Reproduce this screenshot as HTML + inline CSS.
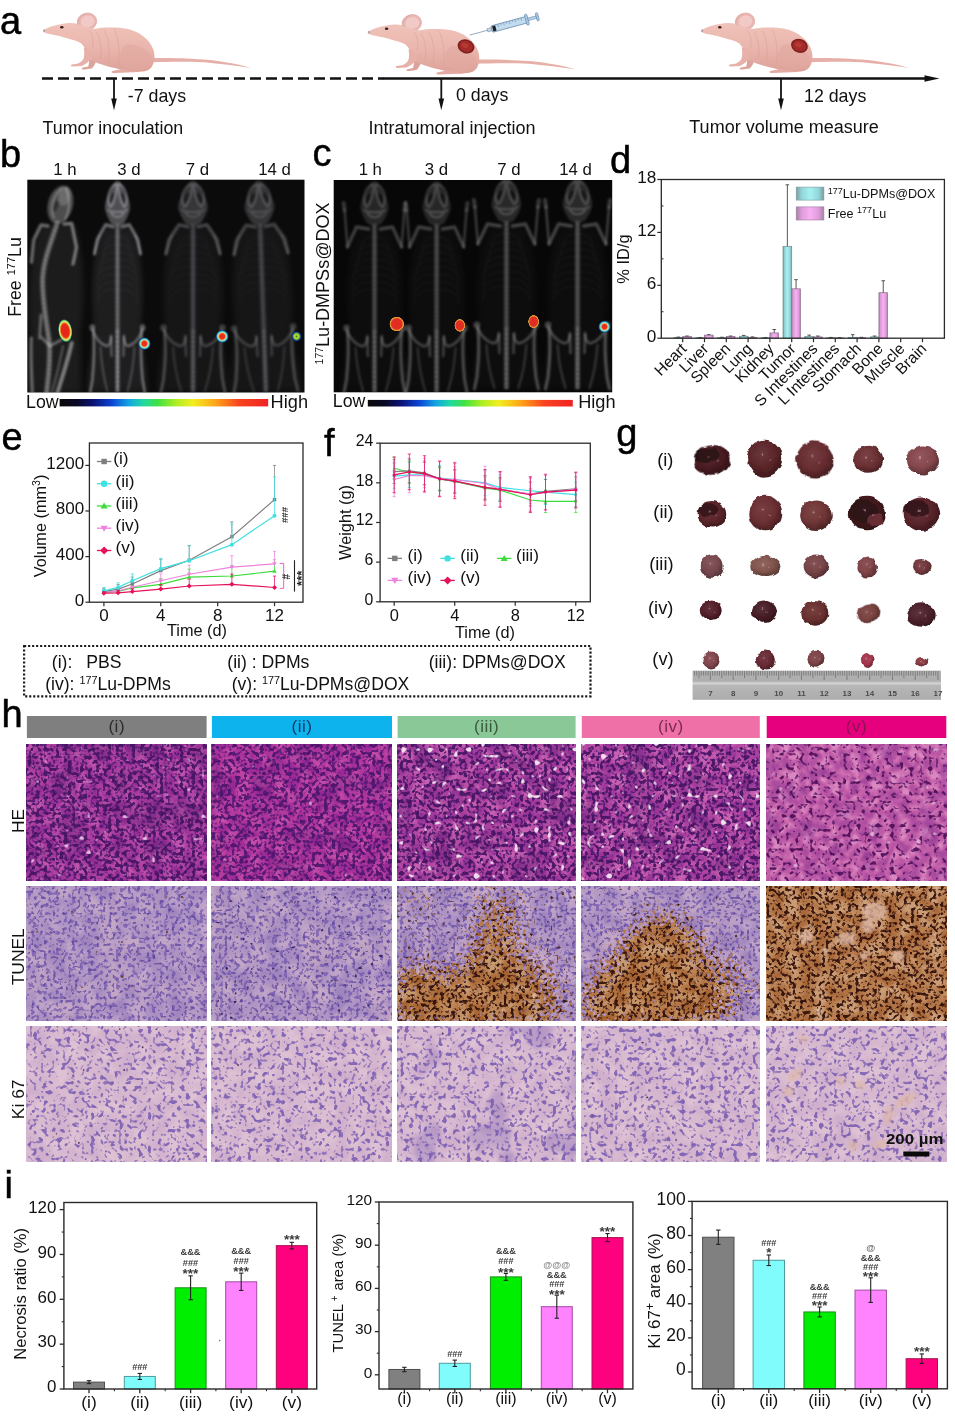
<!DOCTYPE html>
<html lang="en"><head><meta charset="utf-8"><title>Figure</title>
<style>html,body{margin:0;padding:0;background:#fff}svg{display:block}text{font-family:"Liberation Sans", Arial, sans-serif}</style>
</head><body>
<svg width="955" height="1425" viewBox="0 0 955 1425">
<defs>
<linearGradient id="mg" x1="0" y1="0" x2="0" y2="1"><stop offset="0" stop-color="#f0c3ba"/><stop offset="0.55" stop-color="#e9b4ab"/><stop offset="1" stop-color="#dca199"/></linearGradient>
<g id="mouse">
<path d="M477,59.6 C490,59.3 505,59.4 528.6,61.1 C545,62.4 562,65.4 575.8,69.6 C560,67 545,65.2 528.6,63.8 C505,62.8 490,63.4 477,63.8 Z" fill="#e6afa8"/>
<path d="M414,60 C414,64 413.5,66.5 413,68 L407,69.2 C405.8,70.4 407,71.2 409,71 L416.5,70 C418.5,68 420,65.5 421,63 Z" fill="#dba39b"/>
<ellipse cx="411.8" cy="23.2" rx="9.8" ry="8.6" fill="#e9b6b1" stroke="#dba5a0" stroke-width="0.6" transform="rotate(-15 411.8 23.2)"/>
<ellipse cx="412.3" cy="23" rx="7" ry="6" fill="#f1cac7" transform="rotate(-15 412.3 23)"/>
<path d="M368.4,31.6 C373,28.6 380,26.4 386.5,25.4 C392,24.4 398,24.2 403,25.5 C410,28 415,30.5 420.2,30.3 C424,29.5 428,29 432.3,29 C440,28.8 446,29.2 451.5,30.3 C457,31.5 462,33.5 466,36.3 C470,39 473.5,42.5 475.6,45.9 C478,50 479.2,53.5 479.2,56.8 C479.4,60 479,63 478,65.2 C477,68 475.5,70 473.2,71.5 C468,73.6 462,73.6 456.3,73.2 C450,72.5 445,70.5 439.5,69.5 C432,68 424,65.5 417.8,62.8 C415,60 413,56.5 411.8,53.2 C410,49.5 408,47 405.8,44.7 C402,42.5 399,41.8 396.1,41.1 C392,40 388,38.8 384.1,37.5 C379,36.5 374,35.8 371,34.8 C369,34 367.6,32.8 368.4,31.6 Z" fill="url(#mg)"/>
<path d="M452,46 C462,45 474,51 476,61 C476,67 470,71.5 462,72 C452,72.5 445,66 445,58 C445,52 448,47 452,46 Z" fill="#e1a8a0" opacity="0.6"/>
<path d="M421,33 C425,40 427,50 425,60 M429,32 C434,42 435,52 433,64 M439,31 C444,42 445,54 443,67 M414,32 C417,36 419,42 417,50" fill="none" stroke="#d39c94" stroke-width="0.7" opacity="0.65"/>
<path d="M408.5,49 C409.5,55 409,58 408.2,60.4 C406.5,63 404.5,64.5 402.1,65.2 L396.5,66 C395,67 396,68.3 398,68.1 L406.5,67.5 C410.5,66 414,63 416.5,59 C415.5,55 413.5,52 412,49.5 Z" fill="#e7b1a9"/>
<path d="M448,70.2 L437,72.4 C435.4,73.6 437,74.7 440,74.5 L464,73.6 Z" fill="#e2aaa3"/>
<path d="M403.2,27 C401.6,22 404.5,17 410,15.4" fill="none" stroke="#dca6a1" stroke-width="0.8"/>
<ellipse cx="386.6" cy="28.7" rx="1.7" ry="1.25" fill="#3b1d1d"/>
<ellipse cx="369" cy="32.2" rx="1.1" ry="1.5" fill="#b9a3a3"/>
</g>
<g id="tumor"><ellipse cx="466" cy="46.4" rx="8.6" ry="6.9" fill="#7e1f1f" transform="rotate(20 466 46.4)"/><ellipse cx="466" cy="46.4" rx="7" ry="5.4" fill="#a52b2b" transform="rotate(20 466 46.4)"/><ellipse cx="465" cy="45.4" rx="3.4" ry="2.4" fill="#b63a34" transform="rotate(20 465 45.4)"/></g>
<filter id="bl1" x="-20%" y="-5%" width="140%" height="110%"><feGaussianBlur stdDeviation="1.1"/></filter>
<filter id="bl2" x="-30%" y="-30%" width="160%" height="160%"><feGaussianBlur stdDeviation="1.6"/></filter>
<filter id="bl3" x="-30%" y="-30%" width="160%" height="160%"><feGaussianBlur stdDeviation="3"/></filter>
<g id="skc" fill="none" stroke-linecap="round" stroke-linejoin="round">
<path d="M-16,48 C-30,66 -33,120 -27,150 C-30,170 -36,190 -36,212 L36,212 C36,190 30,170 27,150 C33,120 30,66 16,48 Z" fill="currentColor" opacity="0.04" filter="url(#bl3)"/>
<g filter="url(#bl1)">
<path d="M0,1 C4,1 6,7 9,13 C13,18 15.5,24 14.5,30 C13,35 10.5,39 8,43 C4,46.5 -4,46.5 -8,43 C-10.5,39 -13,35 -14.5,30 C-15.5,24 -13,18 -9,13 C-6,7 -4,1 0,1 Z" fill="currentColor" opacity="0.2"/>
<ellipse cx="-6.4" cy="18" rx="3.2" ry="6.4" fill="#000" opacity="0.42" transform="rotate(22 -6.4 18)"/>
<ellipse cx="6.4" cy="18" rx="3.2" ry="6.4" fill="#000" opacity="0.42" transform="rotate(-22 6.4 18)"/>
<path d="M-2,4 C-11,8 -13.5,20 -9,27 M2,4 C11,8 13.5,20 9,27 M-1,5 C-1,13 -3,21 -7.5,27 M1,5 C1,13 3,21 7.5,27" stroke="currentColor" stroke-width="1.7" opacity="0.36"/>
<path d="M-8,32 C-5,39 5,39 8,32 M-11,30 C-8,33 8,33 11,30" stroke="currentColor" stroke-width="2" opacity="0.32"/>
<line x1="0" y1="44" x2="0" y2="212" stroke="currentColor" stroke-width="5.2" stroke-linecap="butt" opacity="0.27"/>
<line x1="0" y1="46" x2="0" y2="212" stroke="currentColor" stroke-width="2.8" stroke-dasharray="3.4 1" stroke-linecap="butt" opacity="0.22"/>
<line x1="0" y1="150" x2="0" y2="212" stroke="currentColor" stroke-width="3.8" stroke-dasharray="3.8 1.2" stroke-linecap="butt" opacity="0.25"/>
<path d="M0,58 C-7,55 -14,61 -15,70 M0,58 C7,55 14,61 15,70 M0,65.5 C-8.1,62.5 -16.2,68.5 -17.2,77.5 M0,65.5 C8.1,62.5 16.2,68.5 17.2,77.5 M0,73 C-9.2,70 -18.4,76 -19.4,85 M0,73 C9.2,70 18.4,76 19.4,85 M0,80.5 C-10.3,77.5 -20.6,83.5 -21.6,92.5 M0,80.5 C10.3,77.5 20.6,83.5 21.6,92.5 M0,88 C-11.4,85 -22.8,91 -23.8,100 M0,88 C11.4,85 22.8,91 23.8,100 M0,95.5 C-11.4,92.5 -22.8,98.5 -23.8,107.5 M0,95.5 C11.4,92.5 22.8,98.5 23.8,107.5 M0,103 C-11.4,100 -22.8,106 -23.8,115 M0,103 C11.4,100 22.8,106 23.8,115 M0,110.5 C-11.4,107.5 -22.8,113.5 -23.8,122.5 M0,110.5 C11.4,107.5 22.8,113.5 23.8,122.5" stroke="currentColor" stroke-width="1.2" opacity="0.06"/>
<path d="M-6,49 L-19,47 L-28.5,67" stroke="currentColor" stroke-width="3.4" opacity="0.36"/>
<path d="M-28.5,67 L-31.5,30" stroke="currentColor" stroke-width="2.4" opacity="0.34"/>
<path d="M-31.5,30 L-32.5,23" stroke="currentColor" stroke-width="4" opacity="0.3"/>
<circle cx="-29.5" cy="148" r="3.4" fill="currentColor" opacity="0.36"/>
<path d="M-29,150 C-26,158 -20,164 -14,166 C-10,167 -8,163 -7.6,158" stroke="currentColor" stroke-width="2.8" opacity="0.36"/>
<path d="M-7.6,156 L-7,176" stroke="currentColor" stroke-width="2.6" opacity="0.34"/>
<path d="M-28.5,152 C-27,166 -27.5,182 -29.5,200 L-32,212" stroke="currentColor" stroke-width="3.1" opacity="0.42"/>
<path d="M-20,168 C-19,182 -17,196 -12,211" stroke="currentColor" stroke-width="2.2" opacity="0.26"/>
<path d="M6,49 L19,47 L28.5,67" stroke="currentColor" stroke-width="3.4" opacity="0.36"/>
<path d="M28.5,67 L31.5,30" stroke="currentColor" stroke-width="2.4" opacity="0.34"/>
<path d="M31.5,30 L32.5,23" stroke="currentColor" stroke-width="4" opacity="0.3"/>
<circle cx="29.5" cy="148" r="3.4" fill="currentColor" opacity="0.36"/>
<path d="M29,150 C26,158 20,164 14,166 C10,167 8,163 7.6,158" stroke="currentColor" stroke-width="2.8" opacity="0.36"/>
<path d="M7.6,156 L7,176" stroke="currentColor" stroke-width="2.6" opacity="0.34"/>
<path d="M28.5,152 C27,166 27.5,182 29.5,200 L32,212" stroke="currentColor" stroke-width="3.1" opacity="0.42"/>
<path d="M20,168 C19,182 17,196 12,211" stroke="currentColor" stroke-width="2.2" opacity="0.26"/>
</g></g>
<g id="skb" fill="none" stroke-linecap="round" stroke-linejoin="round">
<path d="M-16,48 C-30,66 -33,120 -27,150 C-30,170 -36,190 -36,212 L36,212 C36,190 30,170 27,150 C33,120 30,66 16,48 Z" fill="currentColor" opacity="0.085" filter="url(#bl3)"/>
<g filter="url(#bl1)">
<path d="M0,1 C4,1 6,7 9,13 C13,18 15.5,24 14.5,30 C13,35 10.5,39 8,43 C4,46.5 -4,46.5 -8,43 C-10.5,39 -13,35 -14.5,30 C-15.5,24 -13,18 -9,13 C-6,7 -4,1 0,1 Z" fill="currentColor" opacity="0.32"/>
<ellipse cx="-6.4" cy="18" rx="3.2" ry="6.4" fill="#000" opacity="0.42" transform="rotate(22 -6.4 18)"/>
<ellipse cx="6.4" cy="18" rx="3.2" ry="6.4" fill="#000" opacity="0.42" transform="rotate(-22 6.4 18)"/>
<path d="M-2,4 C-11,8 -13.5,20 -9,27 M2,4 C11,8 13.5,20 9,27 M-1,5 C-1,13 -3,21 -7.5,27 M1,5 C1,13 3,21 7.5,27" stroke="currentColor" stroke-width="1.7" opacity="0.48"/>
<path d="M-8,32 C-5,39 5,39 8,32 M-11,30 C-8,33 8,33 11,30" stroke="currentColor" stroke-width="2" opacity="0.32"/>
<line x1="0" y1="44" x2="0" y2="212" stroke="currentColor" stroke-width="5.2" stroke-linecap="butt" opacity="0.27"/>
<line x1="0" y1="46" x2="0" y2="212" stroke="currentColor" stroke-width="2.8" stroke-dasharray="3.4 1" stroke-linecap="butt" opacity="0.22"/>
<line x1="0" y1="150" x2="0" y2="212" stroke="currentColor" stroke-width="3.8" stroke-dasharray="3.8 1.2" stroke-linecap="butt" opacity="0.25"/>
<path d="M0,58 C-7,55 -14,61 -15,70 M0,58 C7,55 14,61 15,70 M0,65.5 C-8.1,62.5 -16.2,68.5 -17.2,77.5 M0,65.5 C8.1,62.5 16.2,68.5 17.2,77.5 M0,73 C-9.2,70 -18.4,76 -19.4,85 M0,73 C9.2,70 18.4,76 19.4,85 M0,80.5 C-10.3,77.5 -20.6,83.5 -21.6,92.5 M0,80.5 C10.3,77.5 20.6,83.5 21.6,92.5 M0,88 C-11.4,85 -22.8,91 -23.8,100 M0,88 C11.4,85 22.8,91 23.8,100 M0,95.5 C-11.4,92.5 -22.8,98.5 -23.8,107.5 M0,95.5 C11.4,92.5 22.8,98.5 23.8,107.5 M0,103 C-11.4,100 -22.8,106 -23.8,115 M0,103 C11.4,100 22.8,106 23.8,115 M0,110.5 C-11.4,107.5 -22.8,113.5 -23.8,122.5 M0,110.5 C11.4,107.5 22.8,113.5 23.8,122.5" stroke="currentColor" stroke-width="1.2" opacity="0.06"/>
<path d="M-5,47 L-14,45 L-24,60 L-27,74" stroke="currentColor" stroke-width="3.6" opacity="0.42"/>
<path d="M-27,74 L-21,56" stroke="currentColor" stroke-width="2.2" opacity="0.28"/>
<circle cx="-29.5" cy="148" r="3.4" fill="currentColor" opacity="0.36"/>
<path d="M-29,150 C-26,158 -20,164 -14,166 C-10,167 -8,163 -7.6,158" stroke="currentColor" stroke-width="2.8" opacity="0.36"/>
<path d="M-7.6,156 L-7,176" stroke="currentColor" stroke-width="2.6" opacity="0.34"/>
<path d="M-28.5,152 C-27,166 -27.5,182 -29.5,200 L-32,212" stroke="currentColor" stroke-width="3.1" opacity="0.42"/>
<path d="M-20,168 C-19,182 -17,196 -12,211" stroke="currentColor" stroke-width="2.2" opacity="0.26"/>
<path d="M5,47 L14,45 L24,60 L27,74" stroke="currentColor" stroke-width="3.6" opacity="0.42"/>
<path d="M27,74 L21,56" stroke="currentColor" stroke-width="2.2" opacity="0.28"/>
<circle cx="29.5" cy="148" r="3.4" fill="currentColor" opacity="0.36"/>
<path d="M29,150 C26,158 20,164 14,166 C10,167 8,163 7.6,158" stroke="currentColor" stroke-width="2.8" opacity="0.36"/>
<path d="M7.6,156 L7,176" stroke="currentColor" stroke-width="2.6" opacity="0.34"/>
<path d="M28.5,152 C27,166 27.5,182 29.5,200 L32,212" stroke="currentColor" stroke-width="3.1" opacity="0.42"/>
<path d="M20,168 C19,182 17,196 12,211" stroke="currentColor" stroke-width="2.2" opacity="0.26"/>
</g></g>
<linearGradient id="jet" x1="0" y1="0" x2="1" y2="0"><stop offset="0" stop-color="#0a0a0c"/><stop offset="0.08" stop-color="#080822"/><stop offset="0.16" stop-color="#0a1274"/><stop offset="0.25" stop-color="#0c44d4"/><stop offset="0.33" stop-color="#12a4e2"/><stop offset="0.40" stop-color="#20d8a4"/><stop offset="0.47" stop-color="#40e044"/><stop offset="0.56" stop-color="#b0ee22"/><stop offset="0.64" stop-color="#f2ee20"/><stop offset="0.75" stop-color="#ffa218"/><stop offset="0.86" stop-color="#f84420"/><stop offset="1" stop-color="#f02222"/></linearGradient>
<radialGradient id="hotA"><stop offset="0" stop-color="#e82418"/><stop offset="0.55" stop-color="#e42a1c"/><stop offset="0.68" stop-color="#f0a030"/><stop offset="0.78" stop-color="#e8e878"/><stop offset="0.88" stop-color="#40c070"/><stop offset="1" stop-color="#103060" stop-opacity="0"/></radialGradient>
<radialGradient id="hotB"><stop offset="0" stop-color="#e82418"/><stop offset="0.4" stop-color="#ea3a20"/><stop offset="0.55" stop-color="#f0d080"/><stop offset="0.7" stop-color="#50d8d8"/><stop offset="0.85" stop-color="#1060a0"/><stop offset="1" stop-color="#081840" stop-opacity="0"/></radialGradient>
<radialGradient id="hotC"><stop offset="0" stop-color="#e42a20"/><stop offset="0.7" stop-color="#e03024"/><stop offset="0.82" stop-color="#f08a38"/><stop offset="0.92" stop-color="#c8a040"/><stop offset="1" stop-color="#402010" stop-opacity="0"/></radialGradient>
<radialGradient id="hotD"><stop offset="0" stop-color="#406020"/><stop offset="0.25" stop-color="#b8d830"/><stop offset="0.5" stop-color="#90c838"/><stop offset="0.65" stop-color="#208050"/><stop offset="0.8" stop-color="#102888"/><stop offset="1" stop-color="#080840" stop-opacity="0"/></radialGradient>
<clipPath id="cpb"><rect x="27.3" y="179.7" width="277.2" height="212.8"/></clipPath>
<clipPath id="cpc"><rect x="333.7" y="180" width="278.5" height="212.3"/></clipPath>
<linearGradient id="gcy" x1="0" y1="0" x2="1" y2="0"><stop offset="0" stop-color="#7d9c9f"/><stop offset="0.2" stop-color="#93d6da"/><stop offset="0.5" stop-color="#a6f0f2"/><stop offset="0.8" stop-color="#93d6da"/><stop offset="1" stop-color="#7d9c9f"/></linearGradient>
<linearGradient id="gpk" x1="0" y1="0" x2="1" y2="0"><stop offset="0" stop-color="#a383a4"/><stop offset="0.2" stop-color="#e09cdc"/><stop offset="0.5" stop-color="#f8b0f4"/><stop offset="0.8" stop-color="#e09cdc"/><stop offset="1" stop-color="#a383a4"/></linearGradient>
<filter id="rough" x="-25%" y="-25%" width="150%" height="150%"><feTurbulence type="fractalNoise" baseFrequency="0.11" numOctaves="2" seed="4" result="n"/><feDisplacementMap in="SourceGraphic" in2="n" scale="5" xChannelSelector="R" yChannelSelector="G" result="d"/><feGaussianBlur in="d" stdDeviation="0.4"/></filter>
<radialGradient id="tg0" cx="0.42" cy="0.38" r="0.65"><stop offset="0" stop-color="#5a2f34"/><stop offset="0.6" stop-color="#481b21"/><stop offset="1" stop-color="#301216"/></radialGradient>
<radialGradient id="tg1" cx="0.42" cy="0.38" r="0.65"><stop offset="0" stop-color="#6a383b"/><stop offset="0.6" stop-color="#5a2529"/><stop offset="1" stop-color="#3c181b"/></radialGradient>
<radialGradient id="tg2" cx="0.42" cy="0.38" r="0.65"><stop offset="0" stop-color="#763e42"/><stop offset="0.6" stop-color="#662c30"/><stop offset="1" stop-color="#441d20"/></radialGradient>
<radialGradient id="tg3" cx="0.42" cy="0.38" r="0.65"><stop offset="0" stop-color="#7b4246"/><stop offset="0.6" stop-color="#6b3033"/><stop offset="1" stop-color="#472022"/></radialGradient>
<radialGradient id="tg4" cx="0.42" cy="0.38" r="0.65"><stop offset="0" stop-color="#93585e"/><stop offset="0.6" stop-color="#84474c"/><stop offset="1" stop-color="#582f33"/></radialGradient>
<radialGradient id="tg5" cx="0.42" cy="0.38" r="0.65"><stop offset="0" stop-color="#6a383d"/><stop offset="0.6" stop-color="#5a252b"/><stop offset="1" stop-color="#3c181c"/></radialGradient>
<radialGradient id="tg6" cx="0.42" cy="0.38" r="0.65"><stop offset="0" stop-color="#794044"/><stop offset="0.6" stop-color="#692e31"/><stop offset="1" stop-color="#461e21"/></radialGradient>
<radialGradient id="tg7" cx="0.42" cy="0.38" r="0.65"><stop offset="0" stop-color="#7e4747"/><stop offset="0.6" stop-color="#6e3435"/><stop offset="1" stop-color="#492323"/></radialGradient>
<radialGradient id="tg8" cx="0.42" cy="0.38" r="0.65"><stop offset="0" stop-color="#532b30"/><stop offset="0.6" stop-color="#42181d"/><stop offset="1" stop-color="#2c1013"/></radialGradient>
<radialGradient id="tg9" cx="0.42" cy="0.38" r="0.65"><stop offset="0" stop-color="#6a383e"/><stop offset="0.6" stop-color="#5a252c"/><stop offset="1" stop-color="#3c181d"/></radialGradient>
<radialGradient id="tg10" cx="0.42" cy="0.38" r="0.65"><stop offset="0" stop-color="#86595f"/><stop offset="0.6" stop-color="#77484e"/><stop offset="1" stop-color="#4f3034"/></radialGradient>
<radialGradient id="tg11" cx="0.42" cy="0.38" r="0.65"><stop offset="0" stop-color="#90655e"/><stop offset="0.6" stop-color="#81544c"/><stop offset="1" stop-color="#563833"/></radialGradient>
<radialGradient id="tg12" cx="0.42" cy="0.38" r="0.65"><stop offset="0" stop-color="#865558"/><stop offset="0.6" stop-color="#774447"/><stop offset="1" stop-color="#4f2d2f"/></radialGradient>
<radialGradient id="tg13" cx="0.42" cy="0.38" r="0.65"><stop offset="0" stop-color="#8e5559"/><stop offset="0.6" stop-color="#7f4448"/><stop offset="1" stop-color="#552d30"/></radialGradient>
<radialGradient id="tg14" cx="0.42" cy="0.38" r="0.65"><stop offset="0" stop-color="#80494d"/><stop offset="0.6" stop-color="#71373b"/><stop offset="1" stop-color="#4b2527"/></radialGradient>
<radialGradient id="tg15" cx="0.42" cy="0.38" r="0.65"><stop offset="0" stop-color="#62323b"/><stop offset="0.6" stop-color="#511f29"/><stop offset="1" stop-color="#36151b"/></radialGradient>
<radialGradient id="tg16" cx="0.42" cy="0.38" r="0.65"><stop offset="0" stop-color="#583139"/><stop offset="0.6" stop-color="#471e26"/><stop offset="1" stop-color="#2f1419"/></radialGradient>
<radialGradient id="tg17" cx="0.42" cy="0.38" r="0.65"><stop offset="0" stop-color="#784341"/><stop offset="0.6" stop-color="#68302f"/><stop offset="1" stop-color="#45201f"/></radialGradient>
<radialGradient id="tg18" cx="0.42" cy="0.38" r="0.65"><stop offset="0" stop-color="#875350"/><stop offset="0.6" stop-color="#78423e"/><stop offset="1" stop-color="#502c29"/></radialGradient>
<radialGradient id="tg19" cx="0.42" cy="0.38" r="0.65"><stop offset="0" stop-color="#5d343d"/><stop offset="0.6" stop-color="#4b212b"/><stop offset="1" stop-color="#32161c"/></radialGradient>
<radialGradient id="tg20" cx="0.42" cy="0.38" r="0.65"><stop offset="0" stop-color="#8e575e"/><stop offset="0.6" stop-color="#7f464d"/><stop offset="1" stop-color="#552e33"/></radialGradient>
<radialGradient id="tg21" cx="0.42" cy="0.38" r="0.65"><stop offset="0" stop-color="#773c47"/><stop offset="0.6" stop-color="#672a35"/><stop offset="1" stop-color="#451c23"/></radialGradient>
<radialGradient id="tg22" cx="0.42" cy="0.38" r="0.65"><stop offset="0" stop-color="#8b5357"/><stop offset="0.6" stop-color="#7b4246"/><stop offset="1" stop-color="#522c2e"/></radialGradient>
<radialGradient id="tg23" cx="0.42" cy="0.38" r="0.65"><stop offset="0" stop-color="#ae475e"/><stop offset="0.6" stop-color="#a1354c"/><stop offset="1" stop-color="#6b2333"/></radialGradient>
<radialGradient id="tg24" cx="0.42" cy="0.38" r="0.65"><stop offset="0" stop-color="#974c53"/><stop offset="0.6" stop-color="#883a42"/><stop offset="1" stop-color="#5a272c"/></radialGradient>
<linearGradient id="rul" x1="0" y1="0" x2="0" y2="1"><stop offset="0" stop-color="#b2b2b2"/><stop offset="0.36" stop-color="#aeaeae"/><stop offset="0.43" stop-color="#d6d6d6"/><stop offset="0.52" stop-color="#b6b6b6"/><stop offset="1" stop-color="#adadad"/></linearGradient>
<filter id="he0" x="0" y="0" width="100%" height="100%" color-interpolation-filters="sRGB"><feTurbulence type="fractalNoise" baseFrequency="0.08" numOctaves="2" seed="3"/><feColorMatrix type="matrix" values="1 0 0 0 0  1 0 0 0 0  1 0 0 0 0  0 0 0 0 1"/><feComponentTransfer result="base"><feFuncR type="table" tableValues="0.580 0.580 0.580 0.580 0.580 0.580 0.580 0.580 0.590 0.609 0.627 0.646 0.665 0.682 0.698 0.714 0.729 0.745 0.753 0.753 0.753 0.753 0.753 0.753 0.753 0.753"/><feFuncG type="table" tableValues="0.180 0.180 0.180 0.180 0.180 0.180 0.180 0.180 0.187 0.199 0.212 0.224 0.237 0.252 0.269 0.286 0.304 0.321 0.329 0.329 0.329 0.329 0.329 0.329 0.329 0.329"/><feFuncB type="table" tableValues="0.588 0.588 0.588 0.588 0.588 0.588 0.588 0.588 0.592 0.600 0.608 0.616 0.624 0.633 0.644 0.655 0.666 0.677 0.682 0.682 0.682 0.682 0.682 0.682 0.682 0.682"/></feComponentTransfer><feTurbulence type="fractalNoise" baseFrequency="0.035" numOctaves="2" seed="101"/><feColorMatrix type="matrix" values="0 0 0 0 0.165  0 0 0 0 0.063  0 0 0 0 0.314  5.000 0 0 0 -2.500"/><feComponentTransfer><feFuncA type="linear" slope="0.200"/></feComponentTransfer><feComposite operator="over" in2="base" result="L0"/><feTurbulence type="fractalNoise" baseFrequency="0.25" numOctaves="1" seed="401"/><feColorMatrix type="matrix" values="0 0 0 0 0.259  0 0 0 0 0.071  0 0 0 0 0.369  9.000 0 0 0 -4.590"/><feComponentTransfer><feFuncA type="linear" slope="0.920"/></feComponentTransfer><feComposite operator="over" in2="L0" result="L1"/><feTurbulence type="fractalNoise" baseFrequency="0.34" numOctaves="1" seed="402"/><feColorMatrix type="matrix" values="0 0 0 0 0.306  0 0 0 0 0.102  0 0 0 0 0.439  9.000 0 0 0 -4.770"/><feComponentTransfer><feFuncA type="linear" slope="0.880"/></feComponentTransfer><feComposite operator="over" in2="L1" result="L2"/><feTurbulence type="fractalNoise" baseFrequency="0.14" numOctaves="1" seed="5"/><feColorMatrix type="matrix" values="0 0 0 0 0.925  0 0 0 0 0.769  0 0 0 0 0.910  14.000 0 0 0 -9.940"/><feComponentTransfer><feFuncA type="linear" slope="0.900"/></feComponentTransfer><feComposite operator="over" in2="L2" result="L3"/><feGaussianBlur stdDeviation="0.4"/></filter>
<filter id="he1" x="0" y="0" width="100%" height="100%" color-interpolation-filters="sRGB"><feTurbulence type="fractalNoise" baseFrequency="0.08" numOctaves="2" seed="8"/><feColorMatrix type="matrix" values="1 0 0 0 0  1 0 0 0 0  1 0 0 0 0  0 0 0 0 1"/><feComponentTransfer result="base"><feFuncR type="table" tableValues="0.612 0.612 0.612 0.612 0.612 0.612 0.612 0.612 0.621 0.640 0.659 0.678 0.696 0.713 0.727 0.741 0.755 0.769 0.776 0.776 0.776 0.776 0.776 0.776 0.776 0.776"/><feFuncG type="table" tableValues="0.165 0.165 0.165 0.165 0.165 0.165 0.165 0.165 0.170 0.181 0.192 0.203 0.214 0.228 0.245 0.263 0.280 0.297 0.306 0.306 0.306 0.306 0.306 0.306 0.306 0.306"/><feFuncB type="table" tableValues="0.596 0.596 0.596 0.596 0.596 0.596 0.596 0.596 0.598 0.603 0.608 0.613 0.617 0.624 0.634 0.643 0.653 0.662 0.667 0.667 0.667 0.667 0.667 0.667 0.667 0.667"/></feComponentTransfer><feTurbulence type="fractalNoise" baseFrequency="0.035" numOctaves="2" seed="102"/><feColorMatrix type="matrix" values="0 0 0 0 0.227  0 0 0 0 0.063  0 0 0 0 0.376  5.000 0 0 0 -2.500"/><feComponentTransfer><feFuncA type="linear" slope="0.220"/></feComponentTransfer><feComposite operator="over" in2="base" result="L0"/><feTurbulence type="fractalNoise" baseFrequency="0.25" numOctaves="1" seed="403"/><feColorMatrix type="matrix" values="0 0 0 0 0.290  0 0 0 0 0.078  0 0 0 0 0.408  9.000 0 0 0 -4.635"/><feComponentTransfer><feFuncA type="linear" slope="0.920"/></feComponentTransfer><feComposite operator="over" in2="L0" result="L1"/><feTurbulence type="fractalNoise" baseFrequency="0.34" numOctaves="1" seed="404"/><feColorMatrix type="matrix" values="0 0 0 0 0.337  0 0 0 0 0.102  0 0 0 0 0.471  9.000 0 0 0 -4.815"/><feComponentTransfer><feFuncA type="linear" slope="0.880"/></feComponentTransfer><feComposite operator="over" in2="L1" result="L2"/><feTurbulence type="fractalNoise" baseFrequency="0.14" numOctaves="1" seed="9"/><feColorMatrix type="matrix" values="0 0 0 0 0.910  0 0 0 0 0.690  0 0 0 0 0.878  14.000 0 0 0 -10.360"/><feComponentTransfer><feFuncA type="linear" slope="0.800"/></feComponentTransfer><feComposite operator="over" in2="L2" result="L3"/><feGaussianBlur stdDeviation="0.4"/></filter>
<filter id="he2" x="0" y="0" width="100%" height="100%" color-interpolation-filters="sRGB"><feTurbulence type="fractalNoise" baseFrequency="0.08" numOctaves="2" seed="12"/><feColorMatrix type="matrix" values="1 0 0 0 0  1 0 0 0 0  1 0 0 0 0  0 0 0 0 1"/><feComponentTransfer result="base"><feFuncR type="table" tableValues="0.596 0.596 0.596 0.596 0.596 0.596 0.596 0.596 0.605 0.624 0.643 0.662 0.681 0.700 0.718 0.737 0.756 0.775 0.784 0.784 0.784 0.784 0.784 0.784 0.784 0.784"/><feFuncG type="table" tableValues="0.204 0.204 0.204 0.204 0.204 0.204 0.204 0.204 0.210 0.223 0.235 0.248 0.260 0.278 0.300 0.322 0.344 0.365 0.376 0.376 0.376 0.376 0.376 0.376 0.376 0.376"/><feFuncB type="table" tableValues="0.596 0.596 0.596 0.596 0.596 0.596 0.596 0.596 0.600 0.608 0.616 0.624 0.631 0.642 0.654 0.667 0.679 0.692 0.698 0.698 0.698 0.698 0.698 0.698 0.698 0.698"/></feComponentTransfer><feTurbulence type="fractalNoise" baseFrequency="0.035" numOctaves="2" seed="103"/><feColorMatrix type="matrix" values="0 0 0 0 0.165  0 0 0 0 0.063  0 0 0 0 0.314  5.000 0 0 0 -2.500"/><feComponentTransfer><feFuncA type="linear" slope="0.180"/></feComponentTransfer><feComposite operator="over" in2="base" result="L0"/><feTurbulence type="fractalNoise" baseFrequency="0.25" numOctaves="1" seed="405"/><feColorMatrix type="matrix" values="0 0 0 0 0.259  0 0 0 0 0.071  0 0 0 0 0.369  9.000 0 0 0 -4.680"/><feComponentTransfer><feFuncA type="linear" slope="0.920"/></feComponentTransfer><feComposite operator="over" in2="L0" result="L1"/><feTurbulence type="fractalNoise" baseFrequency="0.34" numOctaves="1" seed="406"/><feColorMatrix type="matrix" values="0 0 0 0 0.306  0 0 0 0 0.102  0 0 0 0 0.439  9.000 0 0 0 -4.860"/><feComponentTransfer><feFuncA type="linear" slope="0.880"/></feComponentTransfer><feComposite operator="over" in2="L1" result="L2"/><feTurbulence type="fractalNoise" baseFrequency="0.15" numOctaves="1" seed="13"/><feColorMatrix type="matrix" values="0 0 0 0 0.965  0 0 0 0 0.902  0 0 0 0 0.949  12.000 0 0 0 -7.860"/><feComponentTransfer><feFuncA type="linear" slope="0.950"/></feComponentTransfer><feComposite operator="over" in2="L2" result="L3"/><feGaussianBlur stdDeviation="0.4"/></filter>
<filter id="he3" x="0" y="0" width="100%" height="100%" color-interpolation-filters="sRGB"><feTurbulence type="fractalNoise" baseFrequency="0.08" numOctaves="2" seed="17"/><feColorMatrix type="matrix" values="1 0 0 0 0  1 0 0 0 0  1 0 0 0 0  0 0 0 0 1"/><feComponentTransfer result="base"><feFuncR type="table" tableValues="0.604 0.604 0.604 0.604 0.604 0.604 0.604 0.604 0.613 0.632 0.651 0.670 0.689 0.707 0.726 0.745 0.764 0.783 0.792 0.792 0.792 0.792 0.792 0.792 0.792 0.792"/><feFuncG type="table" tableValues="0.212 0.212 0.212 0.212 0.212 0.212 0.212 0.212 0.218 0.231 0.243 0.256 0.268 0.285 0.307 0.329 0.351 0.373 0.384 0.384 0.384 0.384 0.384 0.384 0.384 0.384"/><feFuncB type="table" tableValues="0.600 0.600 0.600 0.600 0.600 0.600 0.600 0.600 0.604 0.612 0.620 0.627 0.635 0.645 0.658 0.671 0.683 0.696 0.702 0.702 0.702 0.702 0.702 0.702 0.702 0.702"/></feComponentTransfer><feTurbulence type="fractalNoise" baseFrequency="0.035" numOctaves="2" seed="104"/><feColorMatrix type="matrix" values="0 0 0 0 0.165  0 0 0 0 0.063  0 0 0 0 0.314  5.000 0 0 0 -2.500"/><feComponentTransfer><feFuncA type="linear" slope="0.180"/></feComponentTransfer><feComposite operator="over" in2="base" result="L0"/><feTurbulence type="fractalNoise" baseFrequency="0.25" numOctaves="1" seed="407"/><feColorMatrix type="matrix" values="0 0 0 0 0.259  0 0 0 0 0.071  0 0 0 0 0.369  9.000 0 0 0 -4.680"/><feComponentTransfer><feFuncA type="linear" slope="0.920"/></feComponentTransfer><feComposite operator="over" in2="L0" result="L1"/><feTurbulence type="fractalNoise" baseFrequency="0.34" numOctaves="1" seed="408"/><feColorMatrix type="matrix" values="0 0 0 0 0.306  0 0 0 0 0.102  0 0 0 0 0.439  9.000 0 0 0 -4.860"/><feComponentTransfer><feFuncA type="linear" slope="0.880"/></feComponentTransfer><feComposite operator="over" in2="L1" result="L2"/><feTurbulence type="fractalNoise" baseFrequency="0.15" numOctaves="1" seed="19"/><feColorMatrix type="matrix" values="0 0 0 0 0.965  0 0 0 0 0.902  0 0 0 0 0.949  12.000 0 0 0 -7.920"/><feComponentTransfer><feFuncA type="linear" slope="0.950"/></feComponentTransfer><feComposite operator="over" in2="L2" result="L3"/><feGaussianBlur stdDeviation="0.4"/></filter>
<filter id="he4" x="0" y="0" width="100%" height="100%" color-interpolation-filters="sRGB"><feTurbulence type="fractalNoise" baseFrequency="0.1" numOctaves="2" seed="21"/><feColorMatrix type="matrix" values="1 0 0 0 0  1 0 0 0 0  1 0 0 0 0  0 0 0 0 1"/><feComponentTransfer result="base"><feFuncR type="table" tableValues="0.667 0.667 0.667 0.667 0.667 0.667 0.667 0.667 0.676 0.695 0.714 0.733 0.751 0.770 0.788 0.805 0.822 0.838 0.855 0.855 0.855 0.855 0.855 0.855 0.855 0.855"/><feFuncG type="table" tableValues="0.298 0.298 0.298 0.298 0.298 0.298 0.298 0.298 0.304 0.317 0.329 0.342 0.362 0.384 0.408 0.439 0.471 0.502 0.533 0.533 0.533 0.533 0.533 0.533 0.533 0.533"/><feFuncB type="table" tableValues="0.620 0.620 0.620 0.620 0.620 0.620 0.620 0.620 0.624 0.632 0.641 0.649 0.658 0.667 0.680 0.700 0.720 0.740 0.761 0.761 0.761 0.761 0.761 0.761 0.761 0.761"/></feComponentTransfer><feTurbulence type="fractalNoise" baseFrequency="0.05" numOctaves="2" seed="105"/><feColorMatrix type="matrix" values="0 0 0 0 0.478  0 0 0 0 0.173  0 0 0 0 0.549  6.000 0 0 0 -3.300"/><feComponentTransfer><feFuncA type="linear" slope="0.320"/></feComponentTransfer><feComposite operator="over" in2="base" result="L0"/><feTurbulence type="fractalNoise" baseFrequency="0.21" numOctaves="1" seed="23"/><feColorMatrix type="matrix" values="0 0 0 0 0.290  0 0 0 0 0.047  0 0 0 0 0.329  10.000 0 0 0 -6.000"/><feComponentTransfer><feFuncA type="linear" slope="0.900"/></feComponentTransfer><feComposite operator="over" in2="L0" result="L1"/><feTurbulence type="fractalNoise" baseFrequency="0.28" numOctaves="1" seed="27"/><feColorMatrix type="matrix" values="0 0 0 0 0.353  0 0 0 0 0.110  0 0 0 0 0.424  10.000 0 0 0 -6.200"/><feComponentTransfer><feFuncA type="linear" slope="0.850"/></feComponentTransfer><feComposite operator="over" in2="L1" result="L2"/><feTurbulence type="fractalNoise" baseFrequency="0.13" numOctaves="1" seed="25"/><feColorMatrix type="matrix" values="0 0 0 0 0.925  0 0 0 0 0.753  0 0 0 0 0.894  12.000 0 0 0 -8.640"/><feComponentTransfer><feFuncA type="linear" slope="0.800"/></feComponentTransfer><feComposite operator="over" in2="L2" result="L3"/><feGaussianBlur stdDeviation="0.4"/></filter>
<filter id="tu0" x="0" y="0" width="100%" height="100%" color-interpolation-filters="sRGB"><feTurbulence type="fractalNoise" baseFrequency="0.06" numOctaves="2" seed="31"/><feColorMatrix type="matrix" values="1 0 0 0 0  1 0 0 0 0  1 0 0 0 0  0 0 0 0 1"/><feComponentTransfer result="base"><feFuncR type="table" tableValues="0.635 0.635 0.635 0.635 0.635 0.635 0.635 0.635 0.641 0.652 0.663 0.674 0.685 0.697 0.711 0.725 0.740 0.754 0.761 0.761 0.761 0.761 0.761 0.761 0.761 0.761"/><feFuncG type="table" tableValues="0.529 0.529 0.529 0.529 0.529 0.529 0.529 0.529 0.535 0.547 0.559 0.571 0.582 0.595 0.607 0.620 0.632 0.645 0.651 0.651 0.651 0.651 0.651 0.651 0.651 0.651"/><feFuncB type="table" tableValues="0.745 0.745 0.745 0.745 0.745 0.745 0.745 0.745 0.747 0.752 0.757 0.762 0.766 0.770 0.773 0.776 0.780 0.783 0.784 0.784 0.784 0.784 0.784 0.784 0.784 0.784"/></feComponentTransfer><feTurbulence type="fractalNoise" baseFrequency="0.03" numOctaves="2" seed="111"/><feColorMatrix type="matrix" values="0 0 0 0 0.804  0 0 0 0 0.682  0 0 0 0 0.769  5.000 0 0 0 -2.500"/><feComponentTransfer><feFuncA type="linear" slope="0.400"/></feComponentTransfer><feComposite operator="over" in2="base" result="L0"/><feTurbulence type="fractalNoise" baseFrequency="0.25" numOctaves="1" seed="201"/><feColorMatrix type="matrix" values="0 0 0 0 0.416  0 0 0 0 0.314  0 0 0 0 0.675  10.000 0 0 0 -5.550"/><feComponentTransfer><feFuncA type="linear" slope="0.660"/></feComponentTransfer><feComposite operator="over" in2="L0" result="L1"/><feTurbulence type="fractalNoise" baseFrequency="0.32" numOctaves="1" seed="202"/><feColorMatrix type="matrix" values="0 0 0 0 0.333  0 0 0 0 0.227  0 0 0 0 0.596  10.000 0 0 0 -5.900"/><feComponentTransfer><feFuncA type="linear" slope="0.660"/></feComponentTransfer><feComposite operator="over" in2="L1" result="L2"/><feTurbulence type="fractalNoise" baseFrequency="0.2" numOctaves="1" seed="33"/><feColorMatrix type="matrix" values="0 0 0 0 0.416  0 0 0 0 0.235  0 0 0 0 0.110  14.000 0 0 0 -10.640"/><feComponentTransfer><feFuncA type="linear" slope="0.900"/></feComponentTransfer><feComposite operator="over" in2="L2" result="L3"/><feGaussianBlur stdDeviation="0.45"/></filter>
<filter id="tu1" x="0" y="0" width="100%" height="100%" color-interpolation-filters="sRGB"><feTurbulence type="fractalNoise" baseFrequency="0.06" numOctaves="2" seed="37"/><feColorMatrix type="matrix" values="1 0 0 0 0  1 0 0 0 0  1 0 0 0 0  0 0 0 0 1"/><feComponentTransfer result="base"><feFuncR type="table" tableValues="0.635 0.635 0.635 0.635 0.635 0.635 0.635 0.635 0.641 0.652 0.663 0.674 0.685 0.697 0.711 0.725 0.740 0.754 0.761 0.761 0.761 0.761 0.761 0.761 0.761 0.761"/><feFuncG type="table" tableValues="0.529 0.529 0.529 0.529 0.529 0.529 0.529 0.529 0.535 0.547 0.559 0.571 0.582 0.595 0.607 0.620 0.632 0.645 0.651 0.651 0.651 0.651 0.651 0.651 0.651 0.651"/><feFuncB type="table" tableValues="0.745 0.745 0.745 0.745 0.745 0.745 0.745 0.745 0.747 0.752 0.757 0.762 0.766 0.770 0.773 0.776 0.780 0.783 0.784 0.784 0.784 0.784 0.784 0.784 0.784 0.784"/></feComponentTransfer><feTurbulence type="fractalNoise" baseFrequency="0.03" numOctaves="2" seed="112"/><feColorMatrix type="matrix" values="0 0 0 0 0.804  0 0 0 0 0.682  0 0 0 0 0.769  5.000 0 0 0 -2.500"/><feComponentTransfer><feFuncA type="linear" slope="0.400"/></feComponentTransfer><feComposite operator="over" in2="base" result="L0"/><feTurbulence type="fractalNoise" baseFrequency="0.25" numOctaves="1" seed="203"/><feColorMatrix type="matrix" values="0 0 0 0 0.416  0 0 0 0 0.314  0 0 0 0 0.675  10.000 0 0 0 -5.550"/><feComponentTransfer><feFuncA type="linear" slope="0.660"/></feComponentTransfer><feComposite operator="over" in2="L0" result="L1"/><feTurbulence type="fractalNoise" baseFrequency="0.32" numOctaves="1" seed="204"/><feColorMatrix type="matrix" values="0 0 0 0 0.333  0 0 0 0 0.227  0 0 0 0 0.596  10.000 0 0 0 -5.900"/><feComponentTransfer><feFuncA type="linear" slope="0.660"/></feComponentTransfer><feComposite operator="over" in2="L1" result="L2"/><feTurbulence type="fractalNoise" baseFrequency="0.24" numOctaves="1" seed="39"/><feColorMatrix type="matrix" values="0 0 0 0 0.180  0 0 0 0 0.133  0 0 0 0 0.345  12.000 0 0 0 -8.280"/><feComponentTransfer><feFuncA type="linear" slope="0.900"/></feComponentTransfer><feComposite operator="over" in2="L2" result="L3"/><feTurbulence type="fractalNoise" baseFrequency="0.2" numOctaves="1" seed="35"/><feColorMatrix type="matrix" values="0 0 0 0 0.353  0 0 0 0 0.188  0 0 0 0 0.078  14.000 0 0 0 -10.780"/><feComponentTransfer><feFuncA type="linear" slope="0.900"/></feComponentTransfer><feComposite operator="over" in2="L3" result="L4"/><feGaussianBlur stdDeviation="0.45"/></filter>
<filter id="tu2" x="0" y="0" width="100%" height="100%" color-interpolation-filters="sRGB"><feTurbulence type="fractalNoise" baseFrequency="0.06" numOctaves="2" seed="41"/><feColorMatrix type="matrix" values="1 0 0 0 0  1 0 0 0 0  1 0 0 0 0  0 0 0 0 1"/><feComponentTransfer result="base"><feFuncR type="table" tableValues="0.635 0.635 0.635 0.635 0.635 0.635 0.635 0.635 0.641 0.652 0.663 0.674 0.685 0.697 0.711 0.725 0.740 0.754 0.761 0.761 0.761 0.761 0.761 0.761 0.761 0.761"/><feFuncG type="table" tableValues="0.529 0.529 0.529 0.529 0.529 0.529 0.529 0.529 0.535 0.547 0.559 0.571 0.582 0.595 0.607 0.620 0.632 0.645 0.651 0.651 0.651 0.651 0.651 0.651 0.651 0.651"/><feFuncB type="table" tableValues="0.745 0.745 0.745 0.745 0.745 0.745 0.745 0.745 0.747 0.752 0.757 0.762 0.766 0.770 0.773 0.776 0.780 0.783 0.784 0.784 0.784 0.784 0.784 0.784 0.784 0.784"/></feComponentTransfer><feTurbulence type="fractalNoise" baseFrequency="0.03" numOctaves="2" seed="113"/><feColorMatrix type="matrix" values="0 0 0 0 0.804  0 0 0 0 0.682  0 0 0 0 0.769  5.000 0 0 0 -2.500"/><feComponentTransfer><feFuncA type="linear" slope="0.400"/></feComponentTransfer><feComposite operator="over" in2="base" result="L0"/><feTurbulence type="fractalNoise" baseFrequency="0.25" numOctaves="1" seed="205"/><feColorMatrix type="matrix" values="0 0 0 0 0.416  0 0 0 0 0.314  0 0 0 0 0.675  10.000 0 0 0 -5.550"/><feComponentTransfer><feFuncA type="linear" slope="0.660"/></feComponentTransfer><feComposite operator="over" in2="L0" result="L1"/><feTurbulence type="fractalNoise" baseFrequency="0.32" numOctaves="1" seed="206"/><feColorMatrix type="matrix" values="0 0 0 0 0.333  0 0 0 0 0.227  0 0 0 0 0.596  10.000 0 0 0 -5.900"/><feComponentTransfer><feFuncA type="linear" slope="0.660"/></feComponentTransfer><feComposite operator="over" in2="L1" result="L2"/><feTurbulence type="fractalNoise" baseFrequency="0.26" numOctaves="1" seed="43"/><feColorMatrix type="matrix" values="0 0 0 0 0.290  0 0 0 0 0.141  0 0 0 0 0.078  12.000 0 0 0 -8.160"/><feComponentTransfer><feFuncA type="linear" slope="0.850"/></feComponentTransfer><feComposite operator="over" in2="L2" result="L3"/><feGaussianBlur stdDeviation="0.45"/></filter>
<filter id="tu3" x="0" y="0" width="100%" height="100%" color-interpolation-filters="sRGB"><feTurbulence type="fractalNoise" baseFrequency="0.06" numOctaves="2" seed="47"/><feColorMatrix type="matrix" values="1 0 0 0 0  1 0 0 0 0  1 0 0 0 0  0 0 0 0 1"/><feComponentTransfer result="base"><feFuncR type="table" tableValues="0.635 0.635 0.635 0.635 0.635 0.635 0.635 0.635 0.641 0.652 0.663 0.674 0.685 0.697 0.711 0.725 0.740 0.754 0.761 0.761 0.761 0.761 0.761 0.761 0.761 0.761"/><feFuncG type="table" tableValues="0.529 0.529 0.529 0.529 0.529 0.529 0.529 0.529 0.535 0.547 0.559 0.571 0.582 0.595 0.607 0.620 0.632 0.645 0.651 0.651 0.651 0.651 0.651 0.651 0.651 0.651"/><feFuncB type="table" tableValues="0.745 0.745 0.745 0.745 0.745 0.745 0.745 0.745 0.747 0.752 0.757 0.762 0.766 0.770 0.773 0.776 0.780 0.783 0.784 0.784 0.784 0.784 0.784 0.784 0.784 0.784"/></feComponentTransfer><feTurbulence type="fractalNoise" baseFrequency="0.03" numOctaves="2" seed="114"/><feColorMatrix type="matrix" values="0 0 0 0 0.804  0 0 0 0 0.682  0 0 0 0 0.769  5.000 0 0 0 -2.500"/><feComponentTransfer><feFuncA type="linear" slope="0.400"/></feComponentTransfer><feComposite operator="over" in2="base" result="L0"/><feTurbulence type="fractalNoise" baseFrequency="0.25" numOctaves="1" seed="207"/><feColorMatrix type="matrix" values="0 0 0 0 0.416  0 0 0 0 0.314  0 0 0 0 0.675  10.000 0 0 0 -5.550"/><feComponentTransfer><feFuncA type="linear" slope="0.660"/></feComponentTransfer><feComposite operator="over" in2="L0" result="L1"/><feTurbulence type="fractalNoise" baseFrequency="0.32" numOctaves="1" seed="208"/><feColorMatrix type="matrix" values="0 0 0 0 0.333  0 0 0 0 0.227  0 0 0 0 0.596  10.000 0 0 0 -5.900"/><feComponentTransfer><feFuncA type="linear" slope="0.660"/></feComponentTransfer><feComposite operator="over" in2="L1" result="L2"/><feTurbulence type="fractalNoise" baseFrequency="0.26" numOctaves="1" seed="49"/><feColorMatrix type="matrix" values="0 0 0 0 0.290  0 0 0 0 0.141  0 0 0 0 0.078  12.000 0 0 0 -8.400"/><feComponentTransfer><feFuncA type="linear" slope="0.800"/></feComponentTransfer><feComposite operator="over" in2="L2" result="L3"/><feGaussianBlur stdDeviation="0.45"/></filter>
<filter id="br2" x="0" y="0" width="100%" height="100%" color-interpolation-filters="sRGB"><feTurbulence type="fractalNoise" baseFrequency="0.07" numOctaves="2" seed="51"/><feColorMatrix type="matrix" values="1 0 0 0 0  1 0 0 0 0  1 0 0 0 0  0 0 0 0 1"/><feComponentTransfer result="base"><feFuncR type="table" tableValues="0.651 0.651 0.651 0.651 0.651 0.651 0.651 0.651 0.658 0.672 0.686 0.700 0.715 0.728 0.740 0.753 0.765 0.778 0.784 0.784 0.784 0.784 0.784 0.784 0.784 0.784"/><feFuncG type="table" tableValues="0.396 0.396 0.396 0.396 0.396 0.396 0.396 0.396 0.405 0.423 0.441 0.459 0.477 0.498 0.522 0.545 0.569 0.592 0.604 0.604 0.604 0.604 0.604 0.604 0.604 0.604"/><feFuncB type="table" tableValues="0.196 0.196 0.196 0.196 0.196 0.196 0.196 0.196 0.205 0.224 0.243 0.262 0.281 0.305 0.335 0.365 0.395 0.424 0.439 0.439 0.439 0.439 0.439 0.439 0.439 0.439"/></feComponentTransfer><feTurbulence type="fractalNoise" baseFrequency="0.27" numOctaves="1" seed="501"/><feColorMatrix type="matrix" values="0 0 0 0 0.165  0 0 0 0 0.047  0 0 0 0 0.031  10.000 0 0 0 -5.450"/><feComponentTransfer><feFuncA type="linear" slope="0.920"/></feComponentTransfer><feComposite operator="over" in2="base" result="L0"/><feTurbulence type="fractalNoise" baseFrequency="0.36" numOctaves="1" seed="502"/><feColorMatrix type="matrix" values="0 0 0 0 0.290  0 0 0 0 0.125  0 0 0 0 0.071  10.000 0 0 0 -5.700"/><feComponentTransfer><feFuncA type="linear" slope="0.860"/></feComponentTransfer><feComposite operator="over" in2="L0" result="L1"/><feTurbulence type="fractalNoise" baseFrequency="0.13" numOctaves="1" seed="503"/><feColorMatrix type="matrix" values="0 0 0 0 0.925  0 0 0 0 0.816  0 0 0 0 0.753  10.000 0 0 0 -7.000"/><feComponentTransfer><feFuncA type="linear" slope="0.600"/></feComponentTransfer><feComposite operator="over" in2="L1" result="L2"/><feGaussianBlur stdDeviation="0.4"/></filter>
<filter id="br3" x="0" y="0" width="100%" height="100%" color-interpolation-filters="sRGB"><feTurbulence type="fractalNoise" baseFrequency="0.07" numOctaves="2" seed="57"/><feColorMatrix type="matrix" values="1 0 0 0 0  1 0 0 0 0  1 0 0 0 0  0 0 0 0 1"/><feComponentTransfer result="base"><feFuncR type="table" tableValues="0.651 0.651 0.651 0.651 0.651 0.651 0.651 0.651 0.658 0.672 0.686 0.700 0.715 0.728 0.740 0.753 0.765 0.778 0.784 0.784 0.784 0.784 0.784 0.784 0.784 0.784"/><feFuncG type="table" tableValues="0.396 0.396 0.396 0.396 0.396 0.396 0.396 0.396 0.405 0.423 0.441 0.459 0.477 0.498 0.522 0.545 0.569 0.592 0.604 0.604 0.604 0.604 0.604 0.604 0.604 0.604"/><feFuncB type="table" tableValues="0.196 0.196 0.196 0.196 0.196 0.196 0.196 0.196 0.205 0.224 0.243 0.262 0.281 0.305 0.335 0.365 0.395 0.424 0.439 0.439 0.439 0.439 0.439 0.439 0.439 0.439"/></feComponentTransfer><feTurbulence type="fractalNoise" baseFrequency="0.27" numOctaves="1" seed="504"/><feColorMatrix type="matrix" values="0 0 0 0 0.165  0 0 0 0 0.047  0 0 0 0 0.031  10.000 0 0 0 -5.450"/><feComponentTransfer><feFuncA type="linear" slope="0.920"/></feComponentTransfer><feComposite operator="over" in2="base" result="L0"/><feTurbulence type="fractalNoise" baseFrequency="0.36" numOctaves="1" seed="505"/><feColorMatrix type="matrix" values="0 0 0 0 0.290  0 0 0 0 0.125  0 0 0 0 0.071  10.000 0 0 0 -5.700"/><feComponentTransfer><feFuncA type="linear" slope="0.860"/></feComponentTransfer><feComposite operator="over" in2="L0" result="L1"/><feTurbulence type="fractalNoise" baseFrequency="0.13" numOctaves="1" seed="506"/><feColorMatrix type="matrix" values="0 0 0 0 0.925  0 0 0 0 0.816  0 0 0 0 0.753  10.000 0 0 0 -7.000"/><feComponentTransfer><feFuncA type="linear" slope="0.600"/></feComponentTransfer><feComposite operator="over" in2="L1" result="L2"/><feGaussianBlur stdDeviation="0.4"/></filter>
<filter id="tu4" x="0" y="0" width="100%" height="100%" color-interpolation-filters="sRGB"><feTurbulence type="fractalNoise" baseFrequency="0.07" numOctaves="2" seed="61"/><feColorMatrix type="matrix" values="1 0 0 0 0  1 0 0 0 0  1 0 0 0 0  0 0 0 0 1"/><feComponentTransfer result="base"><feFuncR type="table" tableValues="0.659 0.659 0.659 0.659 0.659 0.659 0.659 0.659 0.666 0.680 0.694 0.708 0.722 0.736 0.751 0.765 0.779 0.793 0.800 0.800 0.800 0.800 0.800 0.800 0.800 0.800"/><feFuncG type="table" tableValues="0.408 0.408 0.408 0.408 0.408 0.408 0.408 0.408 0.417 0.436 0.455 0.474 0.493 0.514 0.537 0.561 0.584 0.608 0.620 0.620 0.620 0.620 0.620 0.620 0.620 0.620"/><feFuncB type="table" tableValues="0.227 0.227 0.227 0.227 0.227 0.227 0.227 0.227 0.237 0.256 0.275 0.293 0.312 0.336 0.366 0.396 0.426 0.456 0.471 0.471 0.471 0.471 0.471 0.471 0.471 0.471"/></feComponentTransfer><feTurbulence type="fractalNoise" baseFrequency="0.27" numOctaves="1" seed="507"/><feColorMatrix type="matrix" values="0 0 0 0 0.165  0 0 0 0 0.047  0 0 0 0 0.031  10.000 0 0 0 -5.450"/><feComponentTransfer><feFuncA type="linear" slope="0.920"/></feComponentTransfer><feComposite operator="over" in2="base" result="L0"/><feTurbulence type="fractalNoise" baseFrequency="0.36" numOctaves="1" seed="508"/><feColorMatrix type="matrix" values="0 0 0 0 0.290  0 0 0 0 0.125  0 0 0 0 0.071  10.000 0 0 0 -5.700"/><feComponentTransfer><feFuncA type="linear" slope="0.860"/></feComponentTransfer><feComposite operator="over" in2="L0" result="L1"/><feTurbulence type="fractalNoise" baseFrequency="0.13" numOctaves="1" seed="509"/><feColorMatrix type="matrix" values="0 0 0 0 0.925  0 0 0 0 0.816  0 0 0 0 0.753  10.000 0 0 0 -7.000"/><feComponentTransfer><feFuncA type="linear" slope="0.600"/></feComponentTransfer><feComposite operator="over" in2="L1" result="L2"/><feGaussianBlur stdDeviation="0.4"/></filter>
<filter id="fmk2" filterUnits="userSpaceOnUse" x="397.6" y="886" width="178" height="134.5" color-interpolation-filters="sRGB"><feGaussianBlur in="SourceGraphic" stdDeviation="17" result="b"/><feTurbulence type="fractalNoise" baseFrequency="0.3" numOctaves="1" seed="5"/><feColorMatrix type="matrix" values="0 0 0 0 1  0 0 0 0 1  0 0 0 0 1  1 0 0 0 0" result="n"/><feComposite in="b" in2="n" operator="arithmetic" k1="0" k2="1" k3="1.6" k4="-0.8"/><feComponentTransfer><feFuncA type="linear" slope="4" intercept="-1.5"/></feComponentTransfer><feColorMatrix type="matrix" values="0 0 0 0 1  0 0 0 0 1  0 0 0 0 1  0 0 0 1 0"/></filter>
<mask id="mk2" maskUnits="userSpaceOnUse" x="397.6" y="886" width="178" height="134.5"><g filter="url(#fmk2)"><rect x="397.6" y="886" width="178" height="134.5" fill="#fff" opacity="0"/><path d="M390,972 L420,962 L452,982 L476,955 L484,905 L498,880 L514,905 L510,950 L532,975 L550,1000 L562,1030 L390,1030 Z" fill="#fff"/><path d="M397,886 L450,886 L440,915 L400,925 Z" fill="#fff" opacity="0.45"/><path d="M520,940 L560,960 L575,1020 L540,1020 Z" fill="#fff" opacity="0.4"/></g></mask>
<filter id="fmk3" filterUnits="userSpaceOnUse" x="581.8" y="886" width="178" height="134.5" color-interpolation-filters="sRGB"><feGaussianBlur in="SourceGraphic" stdDeviation="17" result="b"/><feTurbulence type="fractalNoise" baseFrequency="0.3" numOctaves="1" seed="7"/><feColorMatrix type="matrix" values="0 0 0 0 1  0 0 0 0 1  0 0 0 0 1  1 0 0 0 0" result="n"/><feComposite in="b" in2="n" operator="arithmetic" k1="0" k2="1" k3="1.6" k4="-0.8"/><feComponentTransfer><feFuncA type="linear" slope="4" intercept="-1.5"/></feComponentTransfer><feColorMatrix type="matrix" values="0 0 0 0 1  0 0 0 0 1  0 0 0 0 1  0 0 0 1 0"/></filter>
<mask id="mk3" maskUnits="userSpaceOnUse" x="581.8" y="886" width="178" height="134.5"><g filter="url(#fmk3)"><rect x="581.8" y="886" width="178" height="134.5" fill="#fff" opacity="0"/><path d="M578,1030 L586,985 L614,962 L634,926 L668,910 L694,930 L706,962 L726,992 L720,1030 Z" fill="#fff"/><path d="M715,950 L760,945 L760,1015 L722,1010 Z" fill="#fff" opacity="0.4"/></g></mask>
<filter id="ki0" x="0" y="0" width="100%" height="100%" color-interpolation-filters="sRGB"><feTurbulence type="fractalNoise" baseFrequency="0.06" numOctaves="2" seed="71"/><feColorMatrix type="matrix" values="1 0 0 0 0  1 0 0 0 0  1 0 0 0 0  0 0 0 0 1"/><feComponentTransfer result="base"><feFuncR type="table" tableValues="0.816 0.816 0.816 0.816 0.816 0.816 0.816 0.816 0.818 0.824 0.829 0.835 0.840 0.846 0.851 0.857 0.862 0.868 0.871 0.871 0.871 0.871 0.871 0.871 0.871 0.871"/><feFuncG type="table" tableValues="0.690 0.690 0.690 0.690 0.690 0.690 0.690 0.690 0.693 0.700 0.706 0.712 0.718 0.725 0.733 0.741 0.749 0.757 0.761 0.761 0.761 0.761 0.761 0.761 0.761 0.761"/><feFuncB type="table" tableValues="0.800 0.800 0.800 0.800 0.800 0.800 0.800 0.800 0.802 0.805 0.808 0.811 0.814 0.817 0.820 0.824 0.827 0.830 0.831 0.831 0.831 0.831 0.831 0.831 0.831 0.831"/></feComponentTransfer><feTurbulence type="fractalNoise" baseFrequency="0.03" numOctaves="2" seed="120"/><feColorMatrix type="matrix" values="0 0 0 0 0.863  0 0 0 0 0.753  0 0 0 0 0.816  5.000 0 0 0 -2.600"/><feComponentTransfer><feFuncA type="linear" slope="0.400"/></feComponentTransfer><feComposite operator="over" in2="base" result="L0"/><feTurbulence type="fractalNoise" baseFrequency="0.21" numOctaves="1" seed="300"/><feColorMatrix type="matrix" values="0 0 0 0 0.478  0 0 0 0 0.369  0 0 0 0 0.698  11.000 0 0 0 -6.435"/><feComponentTransfer><feFuncA type="linear" slope="0.900"/></feComponentTransfer><feComposite operator="over" in2="L0" result="L1"/><feTurbulence type="fractalNoise" baseFrequency="0.27" numOctaves="1" seed="310"/><feColorMatrix type="matrix" values="0 0 0 0 0.541  0 0 0 0 0.424  0 0 0 0 0.722  11.000 0 0 0 -6.655"/><feComponentTransfer><feFuncA type="linear" slope="0.850"/></feComponentTransfer><feComposite operator="over" in2="L1" result="L2"/><feTurbulence type="fractalNoise" baseFrequency="0.22" numOctaves="1" seed="90"/><feColorMatrix type="matrix" values="0 0 0 0 0.290  0 0 0 0 0.173  0 0 0 0 0.345  14.000 0 0 0 -10.640"/><feComponentTransfer><feFuncA type="linear" slope="0.900"/></feComponentTransfer><feComposite operator="over" in2="L2" result="L3"/><feGaussianBlur stdDeviation="0.45"/></filter>
<filter id="ki1" x="0" y="0" width="100%" height="100%" color-interpolation-filters="sRGB"><feTurbulence type="fractalNoise" baseFrequency="0.06" numOctaves="2" seed="73"/><feColorMatrix type="matrix" values="1 0 0 0 0  1 0 0 0 0  1 0 0 0 0  0 0 0 0 1"/><feComponentTransfer result="base"><feFuncR type="table" tableValues="0.816 0.816 0.816 0.816 0.816 0.816 0.816 0.816 0.818 0.824 0.829 0.835 0.840 0.846 0.851 0.857 0.862 0.868 0.871 0.871 0.871 0.871 0.871 0.871 0.871 0.871"/><feFuncG type="table" tableValues="0.690 0.690 0.690 0.690 0.690 0.690 0.690 0.690 0.693 0.700 0.706 0.712 0.718 0.725 0.733 0.741 0.749 0.757 0.761 0.761 0.761 0.761 0.761 0.761 0.761 0.761"/><feFuncB type="table" tableValues="0.800 0.800 0.800 0.800 0.800 0.800 0.800 0.800 0.802 0.805 0.808 0.811 0.814 0.817 0.820 0.824 0.827 0.830 0.831 0.831 0.831 0.831 0.831 0.831 0.831 0.831"/></feComponentTransfer><feTurbulence type="fractalNoise" baseFrequency="0.03" numOctaves="2" seed="121"/><feColorMatrix type="matrix" values="0 0 0 0 0.863  0 0 0 0 0.753  0 0 0 0 0.816  5.000 0 0 0 -2.600"/><feComponentTransfer><feFuncA type="linear" slope="0.400"/></feComponentTransfer><feComposite operator="over" in2="base" result="L0"/><feTurbulence type="fractalNoise" baseFrequency="0.21" numOctaves="1" seed="301"/><feColorMatrix type="matrix" values="0 0 0 0 0.478  0 0 0 0 0.369  0 0 0 0 0.698  11.000 0 0 0 -6.435"/><feComponentTransfer><feFuncA type="linear" slope="0.900"/></feComponentTransfer><feComposite operator="over" in2="L0" result="L1"/><feTurbulence type="fractalNoise" baseFrequency="0.27" numOctaves="1" seed="311"/><feColorMatrix type="matrix" values="0 0 0 0 0.541  0 0 0 0 0.424  0 0 0 0 0.722  11.000 0 0 0 -6.655"/><feComponentTransfer><feFuncA type="linear" slope="0.850"/></feComponentTransfer><feComposite operator="over" in2="L1" result="L2"/><feTurbulence type="fractalNoise" baseFrequency="0.22" numOctaves="1" seed="91"/><feColorMatrix type="matrix" values="0 0 0 0 0.290  0 0 0 0 0.173  0 0 0 0 0.345  14.000 0 0 0 -10.640"/><feComponentTransfer><feFuncA type="linear" slope="0.900"/></feComponentTransfer><feComposite operator="over" in2="L2" result="L3"/><feGaussianBlur stdDeviation="0.45"/></filter>
<filter id="ki2" x="0" y="0" width="100%" height="100%" color-interpolation-filters="sRGB"><feTurbulence type="fractalNoise" baseFrequency="0.06" numOctaves="2" seed="79"/><feColorMatrix type="matrix" values="1 0 0 0 0  1 0 0 0 0  1 0 0 0 0  0 0 0 0 1"/><feComponentTransfer result="base"><feFuncR type="table" tableValues="0.816 0.816 0.816 0.816 0.816 0.816 0.816 0.816 0.818 0.824 0.829 0.835 0.840 0.846 0.851 0.857 0.862 0.868 0.871 0.871 0.871 0.871 0.871 0.871 0.871 0.871"/><feFuncG type="table" tableValues="0.690 0.690 0.690 0.690 0.690 0.690 0.690 0.690 0.693 0.700 0.706 0.712 0.718 0.725 0.733 0.741 0.749 0.757 0.761 0.761 0.761 0.761 0.761 0.761 0.761 0.761"/><feFuncB type="table" tableValues="0.800 0.800 0.800 0.800 0.800 0.800 0.800 0.800 0.802 0.805 0.808 0.811 0.814 0.817 0.820 0.824 0.827 0.830 0.831 0.831 0.831 0.831 0.831 0.831 0.831 0.831"/></feComponentTransfer><feTurbulence type="fractalNoise" baseFrequency="0.03" numOctaves="2" seed="122"/><feColorMatrix type="matrix" values="0 0 0 0 0.863  0 0 0 0 0.753  0 0 0 0 0.816  5.000 0 0 0 -2.600"/><feComponentTransfer><feFuncA type="linear" slope="0.400"/></feComponentTransfer><feComposite operator="over" in2="base" result="L0"/><feTurbulence type="fractalNoise" baseFrequency="0.025" numOctaves="2" seed="141"/><feColorMatrix type="matrix" values="0 0 0 0 0.518  0 0 0 0 0.408  0 0 0 0 0.706  8.000 0 0 0 -4.480"/><feComponentTransfer><feFuncA type="linear" slope="0.350"/></feComponentTransfer><feComposite operator="over" in2="L0" result="L1"/><feTurbulence type="fractalNoise" baseFrequency="0.21" numOctaves="1" seed="302"/><feColorMatrix type="matrix" values="0 0 0 0 0.478  0 0 0 0 0.369  0 0 0 0 0.698  11.000 0 0 0 -6.435"/><feComponentTransfer><feFuncA type="linear" slope="0.900"/></feComponentTransfer><feComposite operator="over" in2="L1" result="L2"/><feTurbulence type="fractalNoise" baseFrequency="0.27" numOctaves="1" seed="312"/><feColorMatrix type="matrix" values="0 0 0 0 0.541  0 0 0 0 0.424  0 0 0 0 0.722  11.000 0 0 0 -6.655"/><feComponentTransfer><feFuncA type="linear" slope="0.850"/></feComponentTransfer><feComposite operator="over" in2="L2" result="L3"/><feTurbulence type="fractalNoise" baseFrequency="0.22" numOctaves="1" seed="92"/><feColorMatrix type="matrix" values="0 0 0 0 0.290  0 0 0 0 0.173  0 0 0 0 0.345  14.000 0 0 0 -10.640"/><feComponentTransfer><feFuncA type="linear" slope="0.900"/></feComponentTransfer><feComposite operator="over" in2="L3" result="L4"/><feGaussianBlur stdDeviation="0.45"/></filter>
<filter id="ki3" x="0" y="0" width="100%" height="100%" color-interpolation-filters="sRGB"><feTurbulence type="fractalNoise" baseFrequency="0.06" numOctaves="2" seed="83"/><feColorMatrix type="matrix" values="1 0 0 0 0  1 0 0 0 0  1 0 0 0 0  0 0 0 0 1"/><feComponentTransfer result="base"><feFuncR type="table" tableValues="0.816 0.816 0.816 0.816 0.816 0.816 0.816 0.816 0.818 0.824 0.829 0.835 0.840 0.846 0.851 0.857 0.862 0.868 0.871 0.871 0.871 0.871 0.871 0.871 0.871 0.871"/><feFuncG type="table" tableValues="0.690 0.690 0.690 0.690 0.690 0.690 0.690 0.690 0.693 0.700 0.706 0.712 0.718 0.725 0.733 0.741 0.749 0.757 0.761 0.761 0.761 0.761 0.761 0.761 0.761 0.761"/><feFuncB type="table" tableValues="0.800 0.800 0.800 0.800 0.800 0.800 0.800 0.800 0.802 0.805 0.808 0.811 0.814 0.817 0.820 0.824 0.827 0.830 0.831 0.831 0.831 0.831 0.831 0.831 0.831 0.831"/></feComponentTransfer><feTurbulence type="fractalNoise" baseFrequency="0.03" numOctaves="2" seed="123"/><feColorMatrix type="matrix" values="0 0 0 0 0.863  0 0 0 0 0.753  0 0 0 0 0.816  5.000 0 0 0 -2.600"/><feComponentTransfer><feFuncA type="linear" slope="0.400"/></feComponentTransfer><feComposite operator="over" in2="base" result="L0"/><feTurbulence type="fractalNoise" baseFrequency="0.21" numOctaves="1" seed="303"/><feColorMatrix type="matrix" values="0 0 0 0 0.478  0 0 0 0 0.369  0 0 0 0 0.698  11.000 0 0 0 -6.435"/><feComponentTransfer><feFuncA type="linear" slope="0.900"/></feComponentTransfer><feComposite operator="over" in2="L0" result="L1"/><feTurbulence type="fractalNoise" baseFrequency="0.27" numOctaves="1" seed="313"/><feColorMatrix type="matrix" values="0 0 0 0 0.541  0 0 0 0 0.424  0 0 0 0 0.722  11.000 0 0 0 -6.655"/><feComponentTransfer><feFuncA type="linear" slope="0.850"/></feComponentTransfer><feComposite operator="over" in2="L1" result="L2"/><feTurbulence type="fractalNoise" baseFrequency="0.22" numOctaves="1" seed="93"/><feColorMatrix type="matrix" values="0 0 0 0 0.290  0 0 0 0 0.173  0 0 0 0 0.345  14.000 0 0 0 -10.640"/><feComponentTransfer><feFuncA type="linear" slope="0.900"/></feComponentTransfer><feComposite operator="over" in2="L2" result="L3"/><feGaussianBlur stdDeviation="0.45"/></filter>
<filter id="ki4" x="0" y="0" width="100%" height="100%" color-interpolation-filters="sRGB"><feTurbulence type="fractalNoise" baseFrequency="0.06" numOctaves="2" seed="89"/><feColorMatrix type="matrix" values="1 0 0 0 0  1 0 0 0 0  1 0 0 0 0  0 0 0 0 1"/><feComponentTransfer result="base"><feFuncR type="table" tableValues="0.816 0.816 0.816 0.816 0.816 0.816 0.816 0.816 0.818 0.824 0.829 0.835 0.840 0.846 0.851 0.857 0.862 0.868 0.871 0.871 0.871 0.871 0.871 0.871 0.871 0.871"/><feFuncG type="table" tableValues="0.690 0.690 0.690 0.690 0.690 0.690 0.690 0.690 0.693 0.700 0.706 0.712 0.718 0.725 0.733 0.741 0.749 0.757 0.761 0.761 0.761 0.761 0.761 0.761 0.761 0.761"/><feFuncB type="table" tableValues="0.800 0.800 0.800 0.800 0.800 0.800 0.800 0.800 0.802 0.805 0.808 0.811 0.814 0.817 0.820 0.824 0.827 0.830 0.831 0.831 0.831 0.831 0.831 0.831 0.831 0.831"/></feComponentTransfer><feTurbulence type="fractalNoise" baseFrequency="0.03" numOctaves="2" seed="124"/><feColorMatrix type="matrix" values="0 0 0 0 0.863  0 0 0 0 0.753  0 0 0 0 0.816  5.000 0 0 0 -2.600"/><feComponentTransfer><feFuncA type="linear" slope="0.400"/></feComponentTransfer><feComposite operator="over" in2="base" result="L0"/><feTurbulence type="fractalNoise" baseFrequency="0.21" numOctaves="1" seed="304"/><feColorMatrix type="matrix" values="0 0 0 0 0.478  0 0 0 0 0.369  0 0 0 0 0.698  11.000 0 0 0 -6.435"/><feComponentTransfer><feFuncA type="linear" slope="0.900"/></feComponentTransfer><feComposite operator="over" in2="L0" result="L1"/><feTurbulence type="fractalNoise" baseFrequency="0.27" numOctaves="1" seed="314"/><feColorMatrix type="matrix" values="0 0 0 0 0.541  0 0 0 0 0.424  0 0 0 0 0.722  11.000 0 0 0 -6.655"/><feComponentTransfer><feFuncA type="linear" slope="0.850"/></feComponentTransfer><feComposite operator="over" in2="L1" result="L2"/><feTurbulence type="fractalNoise" baseFrequency="0.22" numOctaves="1" seed="94"/><feColorMatrix type="matrix" values="0 0 0 0 0.290  0 0 0 0 0.173  0 0 0 0 0.345  14.000 0 0 0 -10.640"/><feComponentTransfer><feFuncA type="linear" slope="0.900"/></feComponentTransfer><feComposite operator="over" in2="L2" result="L3"/><feGaussianBlur stdDeviation="0.45"/></filter>
</defs>
<rect width="955" height="1425" fill="#fff"/>
<use href="#mouse" transform="translate(-324.8 -1.5)"/>
<use href="#mouse"/><use href="#tumor"/>
<use href="#mouse" transform="translate(333.2 -1.5)"/><use href="#tumor" transform="translate(333.4 -0.6)"/>
<g transform="translate(469.6 35.1) rotate(-15.1)"><line x1="0" y1="0" x2="19" y2="0" stroke="#8b9db3" stroke-width="0.8"/><rect x="18.5" y="-1.6" width="4.5" height="3.2" fill="#c9d8e6" stroke="#5f7d9c" stroke-width="0.5"/><rect x="23" y="-3.3" width="36" height="6.6" rx="0.8" fill="#c2dbee" stroke="#5f86ad" stroke-width="0.7"/><rect x="24" y="-2.7" width="3.2" height="5.4" fill="#1d1d22"/><path d="M30,-3.3v3M33,-3.3v2M36,-3.3v3M39,-3.3v2M42,-3.3v3M45,-3.3v2M48,-3.3v3M51,-3.3v2M54,-3.3v3" stroke="#5f86ad" stroke-width="0.5"/><rect x="58" y="-5.6" width="2.6" height="11.2" rx="1.2" fill="#a9c8e2" stroke="#5f86ad" stroke-width="0.6"/><rect x="60.6" y="-1.3" width="8.6" height="2.6" fill="#b5d0e6" stroke="#5f86ad" stroke-width="0.5"/><rect x="69" y="-4.2" width="2.3" height="8.4" rx="1.1" fill="#a9c8e2" stroke="#5f86ad" stroke-width="0.6"/></g>
<line x1="42" y1="78.5" x2="384" y2="78.5" stroke="#111" stroke-width="2.3" stroke-dasharray="11 5"/>
<line x1="383.6" y1="78.5" x2="928" y2="78.5" stroke="#111" stroke-width="2.3"/>
<path d="M924.5,75.3 L939.5,78.5 L924.5,81.7 Z" fill="#111"/>
<line x1="114" y1="79" x2="114" y2="102" stroke="#111" stroke-width="1.8"/>
<path d="M111.2,98.5 L114,110.3 L116.8,98.5 Z" fill="#111"/>
<line x1="441.3" y1="79" x2="441.3" y2="102" stroke="#111" stroke-width="1.8"/>
<path d="M438.5,98.5 L441.3,110.3 L444.1,98.5 Z" fill="#111"/>
<line x1="781" y1="79" x2="781" y2="102" stroke="#111" stroke-width="1.8"/>
<path d="M778.2,98.5 L781,110.3 L783.8,98.5 Z" fill="#111"/>
<text x="127.8" y="101.5" font-size="17.8" fill="#111">-7 days</text>
<text x="456" y="101.3" font-size="17.8" fill="#111">0 days</text>
<text x="804" y="102" font-size="17.8" fill="#111">12 days</text>
<text x="42.6" y="133.5" font-size="17.8" fill="#111">Tumor inoculation</text>
<text x="368.4" y="133.5" font-size="18" fill="#111">Intratumoral injection</text>
<text x="689.3" y="133.3" font-size="18" fill="#111">Tumor volume measure</text>
<text x="65" y="174.5" font-size="16.8" fill="#111" text-anchor="middle">1 h</text>
<text x="129" y="174.5" font-size="16.8" fill="#111" text-anchor="middle">3 d</text>
<text x="197.5" y="174.5" font-size="16.8" fill="#111" text-anchor="middle">7 d</text>
<text x="274.5" y="174.5" font-size="16.8" fill="#111" text-anchor="middle">14 d</text>
<rect x="27.3" y="179.7" width="277.2" height="212.8" fill="#0b0b0b"/>
<g clip-path="url(#cpb)">
<use href="#skb" color="#e0e0ea" transform="translate(117.5 179.7) rotate(0 0 100) scale(0.85 1)"/>
<use href="#skb" color="#8e8e94" transform="translate(193 179.7) rotate(0 0 100) scale(1 1)"/>
<use href="#skb" color="#8c8c92" transform="translate(262 179.7) rotate(-2 0 100) scale(1 1)"/>
</g>
<g clip-path="url(#cpb)"><g fill="none" stroke="#e6e6e6" stroke-linecap="round" stroke-linejoin="round"><path d="M40,226 C30,250 26,300 30,340 C28,360 26,380 27,393 L82,393 C80,370 82,350 80,335 C86,300 84,250 74,224 Z" fill="#e6e6e6" stroke="none" opacity="0.08" filter="url(#bl3)"/><g filter="url(#bl1)"><ellipse cx="60.4" cy="204.7" rx="12.5" ry="19.5" transform="rotate(14 60.4 204.7)" fill="#e6e6e6" stroke="none" opacity="0.3"/><ellipse cx="64.5" cy="196" rx="6" ry="10" transform="rotate(14 64.5 196)" fill="#e6e6e6" stroke="none" opacity="0.2"/><ellipse cx="55.5" cy="206" rx="3.4" ry="6.5" transform="rotate(20 55.5 206)" fill="#000" stroke="none" opacity="0.35"/><path d="M62,188 C52,196 50,210 54,218 M66,188 C70,198 70,210 65,220" stroke-width="1.6" opacity="0.4"/><path d="M57.1,223 C50,245 43,262 42.6,280 C42.4,300 46,320 49,340 C51,360 48,378 46.6,393" stroke-width="5.4" opacity="0.3"/><path d="M57.1,225 C50,245 43,262 42.6,280 C42.4,300 46,320 49,340 C51,360 48,378 46.6,393" stroke-width="2.8" stroke-dasharray="3.4 1" stroke-linecap="butt" opacity="0.25"/><path d="M48,226 L41,225 L33.7,240 L31.5,262" stroke-width="3.4" opacity="0.4"/><path d="M64,224 L71.7,223.5 L76.5,247.5 L73,264" stroke-width="3.4" opacity="0.45"/><path d="M41,315 L39.6,338 M40,336 L50,346 L61,340" stroke-width="3" opacity="0.36"/><path d="M31.3,338 C30.5,356 31.5,374 32.3,393" stroke-width="3.2" opacity="0.38"/><path d="M71.7,343 C68,360 62,378 57.3,393" stroke-width="4" opacity="0.48"/><path d="M63,346 C60,362 56,378 52,392" stroke-width="2.2" opacity="0.28"/></g></g></g>
<ellipse cx="65.2" cy="330.7" rx="7.2" ry="12" fill="url(#hotA)" transform="rotate(-8 65.2 330.7)"/>
<circle cx="144.4" cy="343.6" r="6.6" fill="url(#hotB)"/>
<circle cx="222.2" cy="336.4" r="6.8" fill="url(#hotB)"/>
<circle cx="296.5" cy="336.4" r="5.6" fill="url(#hotD)"/>
<rect x="59.6" y="399" width="208.6" height="7.4" fill="url(#jet)"/>
<text x="26" y="408" font-size="17.8" fill="#111">Low</text>
<text x="270.6" y="408" font-size="18.2" fill="#111">High</text>
<text x="21" y="277" font-size="17.8" fill="#111" text-anchor="middle" transform="rotate(-90 21 277)">Free <tspan font-size="11" dy="-6.3">177</tspan><tspan dy="6.3">Lu</tspan></text>
<text x="370.3" y="174.6" font-size="16.8" fill="#111" text-anchor="middle">1 h</text>
<text x="436.5" y="174.6" font-size="16.8" fill="#111" text-anchor="middle">3 d</text>
<text x="508.9" y="174.6" font-size="16.8" fill="#111" text-anchor="middle">7 d</text>
<text x="575.6" y="174.6" font-size="16.8" fill="#111" text-anchor="middle">14 d</text>
<rect x="333.7" y="180" width="278.5" height="212.3" fill="#070707"/>
<g clip-path="url(#cpc)">
<use href="#skc" color="#a4a4a4" transform="translate(374.5 180) rotate(0 0 100) scale(0.95 1)"/>
<use href="#skc" color="#a4a4a4" transform="translate(436.6 180) rotate(0 0 100) scale(0.95 1)"/>
<use href="#skc" color="#a8a8a8" transform="translate(506.4 177) rotate(0 0 100) scale(1 1)"/>
<use href="#skc" color="#b0b0b0" transform="translate(577.5 177) rotate(0 0 100) scale(1 1)"/>
</g>
<circle cx="396.8" cy="324" r="7.6" fill="url(#hotC)"/>
<ellipse cx="459.8" cy="325.4" rx="5.6" ry="6.6" fill="url(#hotC)"/>
<ellipse cx="533.6" cy="321.6" rx="5.6" ry="6.8" fill="url(#hotC)"/>
<circle cx="604.5" cy="326.7" r="6.4" fill="url(#hotB)"/>
<rect x="367.8" y="399.9" width="205" height="6.6" fill="url(#jet)"/>
<text x="332.8" y="407.2" font-size="17.8" fill="#111">Low</text>
<text x="578.2" y="407.5" font-size="18.2" fill="#111">High</text>
<text x="328.5" y="283.5" font-size="18" fill="#111" text-anchor="middle" transform="rotate(-90 328.5 283.5)"><tspan font-size="10.5" dy="-6">177</tspan><tspan dy="6">Lu-DMPSs@DOX</tspan></text>
<rect x="674" y="337.49" width="8.7" height="0.71" fill="url(#gcy)" stroke="#6f8f92" stroke-width="0.7"/>
<line x1="678.35" y1="337.49" x2="678.35" y2="337.05" stroke="#444" stroke-width="0.9"/>
<line x1="676.55" y1="337.05" x2="680.15" y2="337.05" stroke="#444" stroke-width="0.9"/>
<rect x="682.7" y="336.44" width="8.7" height="1.76" fill="url(#gpk)" stroke="#8f6f90" stroke-width="0.7"/>
<line x1="687.05" y1="336.44" x2="687.05" y2="336" stroke="#444" stroke-width="0.9"/>
<line x1="685.25" y1="336" x2="688.85" y2="336" stroke="#444" stroke-width="0.9"/>
<rect x="695.8" y="337.76" width="8.7" height="0.44" fill="url(#gcy)" stroke="#6f8f92" stroke-width="0.7"/>
<line x1="700.15" y1="337.76" x2="700.15" y2="337.49" stroke="#444" stroke-width="0.9"/>
<line x1="698.35" y1="337.49" x2="701.95" y2="337.49" stroke="#444" stroke-width="0.9"/>
<rect x="704.5" y="335.11" width="8.7" height="3.09" fill="url(#gpk)" stroke="#8f6f90" stroke-width="0.7"/>
<line x1="708.85" y1="335.11" x2="708.85" y2="334.67" stroke="#444" stroke-width="0.9"/>
<line x1="707.05" y1="334.67" x2="710.65" y2="334.67" stroke="#444" stroke-width="0.9"/>
<rect x="717.6" y="337.67" width="8.7" height="0.53" fill="url(#gcy)" stroke="#6f8f92" stroke-width="0.7"/>
<line x1="721.95" y1="337.67" x2="721.95" y2="337.23" stroke="#444" stroke-width="0.9"/>
<line x1="720.15" y1="337.23" x2="723.75" y2="337.23" stroke="#444" stroke-width="0.9"/>
<rect x="726.3" y="336.44" width="8.7" height="1.76" fill="url(#gpk)" stroke="#8f6f90" stroke-width="0.7"/>
<line x1="730.65" y1="336.44" x2="730.65" y2="336" stroke="#444" stroke-width="0.9"/>
<line x1="728.85" y1="336" x2="732.45" y2="336" stroke="#444" stroke-width="0.9"/>
<rect x="739.4" y="336.26" width="8.7" height="1.94" fill="url(#gcy)" stroke="#6f8f92" stroke-width="0.7"/>
<line x1="743.75" y1="336.26" x2="743.75" y2="335.38" stroke="#444" stroke-width="0.9"/>
<line x1="741.95" y1="335.38" x2="745.55" y2="335.38" stroke="#444" stroke-width="0.9"/>
<rect x="748.1" y="337.32" width="8.7" height="0.88" fill="url(#gpk)" stroke="#8f6f90" stroke-width="0.7"/>
<line x1="752.45" y1="337.32" x2="752.45" y2="336.88" stroke="#444" stroke-width="0.9"/>
<line x1="750.65" y1="336.88" x2="754.25" y2="336.88" stroke="#444" stroke-width="0.9"/>
<rect x="761.2" y="337.76" width="8.7" height="0.44" fill="url(#gcy)" stroke="#6f8f92" stroke-width="0.7"/>
<line x1="765.55" y1="337.76" x2="765.55" y2="337.49" stroke="#444" stroke-width="0.9"/>
<line x1="763.75" y1="337.49" x2="767.35" y2="337.49" stroke="#444" stroke-width="0.9"/>
<rect x="769.9" y="332.91" width="8.7" height="5.29" fill="url(#gpk)" stroke="#8f6f90" stroke-width="0.7"/>
<line x1="774.25" y1="332.91" x2="774.25" y2="329.56" stroke="#444" stroke-width="0.9"/>
<line x1="772.45" y1="329.56" x2="776.05" y2="329.56" stroke="#444" stroke-width="0.9"/>
<rect x="783" y="246.33" width="8.7" height="91.87" fill="url(#gcy)" stroke="#6f8f92" stroke-width="0.7"/>
<line x1="787.35" y1="246.33" x2="787.35" y2="184.79" stroke="#444" stroke-width="0.9"/>
<line x1="785.55" y1="184.79" x2="789.15" y2="184.79" stroke="#444" stroke-width="0.9"/>
<rect x="791.7" y="288.83" width="8.7" height="49.37" fill="url(#gpk)" stroke="#8f6f90" stroke-width="0.7"/>
<line x1="796.05" y1="288.83" x2="796.05" y2="279.66" stroke="#444" stroke-width="0.9"/>
<line x1="794.25" y1="279.66" x2="797.85" y2="279.66" stroke="#444" stroke-width="0.9"/>
<rect x="804.8" y="336.44" width="8.7" height="1.76" fill="url(#gcy)" stroke="#6f8f92" stroke-width="0.7"/>
<line x1="809.15" y1="336.44" x2="809.15" y2="335.11" stroke="#444" stroke-width="0.9"/>
<line x1="807.35" y1="335.11" x2="810.95" y2="335.11" stroke="#444" stroke-width="0.9"/>
<rect x="813.5" y="336.88" width="8.7" height="1.32" fill="url(#gpk)" stroke="#8f6f90" stroke-width="0.7"/>
<line x1="817.85" y1="336.88" x2="817.85" y2="336" stroke="#444" stroke-width="0.9"/>
<line x1="816.05" y1="336" x2="819.65" y2="336" stroke="#444" stroke-width="0.9"/>
<rect x="826.6" y="337.76" width="8.7" height="0.44" fill="url(#gcy)" stroke="#6f8f92" stroke-width="0.7"/>
<line x1="830.95" y1="337.76" x2="830.95" y2="337.41" stroke="#444" stroke-width="0.9"/>
<line x1="829.15" y1="337.41" x2="832.75" y2="337.41" stroke="#444" stroke-width="0.9"/>
<rect x="835.3" y="337.94" width="8.7" height="0.26" fill="url(#gpk)" stroke="#8f6f90" stroke-width="0.7"/>
<line x1="839.65" y1="337.94" x2="839.65" y2="337.67" stroke="#444" stroke-width="0.9"/>
<line x1="837.85" y1="337.67" x2="841.45" y2="337.67" stroke="#444" stroke-width="0.9"/>
<rect x="848.4" y="337.32" width="8.7" height="0.88" fill="url(#gcy)" stroke="#6f8f92" stroke-width="0.7"/>
<line x1="852.75" y1="337.32" x2="852.75" y2="334.67" stroke="#444" stroke-width="0.9"/>
<line x1="850.95" y1="334.67" x2="854.55" y2="334.67" stroke="#444" stroke-width="0.9"/>
<rect x="857.1" y="337.76" width="8.7" height="0.44" fill="url(#gpk)" stroke="#8f6f90" stroke-width="0.7"/>
<line x1="861.45" y1="337.76" x2="861.45" y2="337.32" stroke="#444" stroke-width="0.9"/>
<line x1="859.65" y1="337.32" x2="863.25" y2="337.32" stroke="#444" stroke-width="0.9"/>
<rect x="870.2" y="336.88" width="8.7" height="1.32" fill="url(#gcy)" stroke="#6f8f92" stroke-width="0.7"/>
<line x1="874.55" y1="336.88" x2="874.55" y2="336" stroke="#444" stroke-width="0.9"/>
<line x1="872.75" y1="336" x2="876.35" y2="336" stroke="#444" stroke-width="0.9"/>
<rect x="878.9" y="292.71" width="8.7" height="45.49" fill="url(#gpk)" stroke="#8f6f90" stroke-width="0.7"/>
<line x1="883.25" y1="292.71" x2="883.25" y2="280.72" stroke="#444" stroke-width="0.9"/>
<line x1="881.45" y1="280.72" x2="885.05" y2="280.72" stroke="#444" stroke-width="0.9"/>
<rect x="661.3" y="179.5" width="283.1" height="158.7" fill="none" stroke="#2a2a2a" stroke-width="1.3"/>
<line x1="657.3" y1="179.5" x2="661.3" y2="179.5" stroke="#2a2a2a" stroke-width="1.2"/>
<text x="656.3" y="182.9" font-size="17.2" fill="#111" text-anchor="end">18</text>
<line x1="657.3" y1="232.4" x2="661.3" y2="232.4" stroke="#2a2a2a" stroke-width="1.2"/>
<text x="656.3" y="235.8" font-size="17.2" fill="#111" text-anchor="end">12</text>
<line x1="657.3" y1="285.3" x2="661.3" y2="285.3" stroke="#2a2a2a" stroke-width="1.2"/>
<text x="656.3" y="288.7" font-size="17.2" fill="#111" text-anchor="end">6</text>
<line x1="657.3" y1="338.2" x2="661.3" y2="338.2" stroke="#2a2a2a" stroke-width="1.2"/>
<text x="656.3" y="341.6" font-size="17.2" fill="#111" text-anchor="end">0</text>
<line x1="661.3" y1="205.95" x2="663.5" y2="205.95" stroke="#2a2a2a" stroke-width="1"/>
<line x1="661.3" y1="258.85" x2="663.5" y2="258.85" stroke="#2a2a2a" stroke-width="1"/>
<line x1="661.3" y1="311.75" x2="663.5" y2="311.75" stroke="#2a2a2a" stroke-width="1"/>
<line x1="682.7" y1="338.2" x2="682.7" y2="342.2" stroke="#2a2a2a" stroke-width="1.2"/>
<text x="687.7" y="349.7" font-size="15.6" fill="#111" text-anchor="end" transform="rotate(-45 687.7 349.7)">Heart</text>
<line x1="704.5" y1="338.2" x2="704.5" y2="342.2" stroke="#2a2a2a" stroke-width="1.2"/>
<text x="709.5" y="349.7" font-size="15.6" fill="#111" text-anchor="end" transform="rotate(-45 709.5 349.7)">Liver</text>
<line x1="726.3" y1="338.2" x2="726.3" y2="342.2" stroke="#2a2a2a" stroke-width="1.2"/>
<text x="731.3" y="349.7" font-size="15.6" fill="#111" text-anchor="end" transform="rotate(-45 731.3 349.7)">Spleen</text>
<line x1="748.1" y1="338.2" x2="748.1" y2="342.2" stroke="#2a2a2a" stroke-width="1.2"/>
<text x="753.1" y="349.7" font-size="15.6" fill="#111" text-anchor="end" transform="rotate(-45 753.1 349.7)">Lung</text>
<line x1="769.9" y1="338.2" x2="769.9" y2="342.2" stroke="#2a2a2a" stroke-width="1.2"/>
<text x="774.9" y="349.7" font-size="15.6" fill="#111" text-anchor="end" transform="rotate(-45 774.9 349.7)">Kidney</text>
<line x1="791.7" y1="338.2" x2="791.7" y2="342.2" stroke="#2a2a2a" stroke-width="1.2"/>
<text x="796.7" y="349.7" font-size="15.6" fill="#111" text-anchor="end" transform="rotate(-45 796.7 349.7)">Tumor</text>
<line x1="813.5" y1="338.2" x2="813.5" y2="342.2" stroke="#2a2a2a" stroke-width="1.2"/>
<text x="818.5" y="349.7" font-size="15.6" fill="#111" text-anchor="end" transform="rotate(-45 818.5 349.7)">S Intestines</text>
<line x1="835.3" y1="338.2" x2="835.3" y2="342.2" stroke="#2a2a2a" stroke-width="1.2"/>
<text x="840.3" y="349.7" font-size="15.6" fill="#111" text-anchor="end" transform="rotate(-45 840.3 349.7)">L Intestines</text>
<line x1="857.1" y1="338.2" x2="857.1" y2="342.2" stroke="#2a2a2a" stroke-width="1.2"/>
<text x="862.1" y="349.7" font-size="15.6" fill="#111" text-anchor="end" transform="rotate(-45 862.1 349.7)">Stomach</text>
<line x1="878.9" y1="338.2" x2="878.9" y2="342.2" stroke="#2a2a2a" stroke-width="1.2"/>
<text x="883.9" y="349.7" font-size="15.6" fill="#111" text-anchor="end" transform="rotate(-45 883.9 349.7)">Bone</text>
<line x1="900.7" y1="338.2" x2="900.7" y2="342.2" stroke="#2a2a2a" stroke-width="1.2"/>
<text x="905.7" y="349.7" font-size="15.6" fill="#111" text-anchor="end" transform="rotate(-45 905.7 349.7)">Muscle</text>
<line x1="922.5" y1="338.2" x2="922.5" y2="342.2" stroke="#2a2a2a" stroke-width="1.2"/>
<text x="927.5" y="349.7" font-size="15.6" fill="#111" text-anchor="end" transform="rotate(-45 927.5 349.7)">Brain</text>
<text x="629.2" y="259" font-size="16.5" fill="#111" text-anchor="middle" transform="rotate(-90 629.2 259)">% ID/g</text>
<rect x="796.2" y="187.1" width="27.7" height="13" fill="url(#gcy)" stroke="#7a9a9c" stroke-width="0.6"/>
<rect x="796.2" y="206.9" width="27.7" height="13.1" fill="url(#gpk)" stroke="#9a7a9b" stroke-width="0.6"/>
<text x="827.7" y="198" font-size="12.6" fill="#111"><tspan font-size="9" dy="-4.4">177</tspan><tspan dy="4.4">Lu-DPMs@DOX</tspan></text>
<text x="827.7" y="217.7" font-size="12.6" fill="#111">Free <tspan font-size="9" dy="-4.4">177</tspan><tspan dy="4.4">Lu</tspan></text>
<line x1="103.9" y1="590.23" x2="103.9" y2="592.51" stroke="#3cdc3c" stroke-width="0.9" opacity="0.85"/>
<line x1="102.3" y1="590.23" x2="105.5" y2="590.23" stroke="#3cdc3c" stroke-width="0.9" opacity="0.85"/>
<line x1="118.12" y1="588.52" x2="118.12" y2="591.37" stroke="#3cdc3c" stroke-width="0.9" opacity="0.85"/>
<line x1="116.52" y1="588.52" x2="119.72" y2="588.52" stroke="#3cdc3c" stroke-width="0.9" opacity="0.85"/>
<line x1="132.34" y1="583.96" x2="132.34" y2="587.95" stroke="#3cdc3c" stroke-width="0.9" opacity="0.85"/>
<line x1="130.74" y1="583.96" x2="133.94" y2="583.96" stroke="#3cdc3c" stroke-width="0.9" opacity="0.85"/>
<line x1="160.78" y1="578.6" x2="160.78" y2="584.3" stroke="#3cdc3c" stroke-width="0.9" opacity="0.85"/>
<line x1="159.18" y1="578.6" x2="162.38" y2="578.6" stroke="#3cdc3c" stroke-width="0.9" opacity="0.85"/>
<line x1="189.22" y1="569.14" x2="189.22" y2="577.12" stroke="#3cdc3c" stroke-width="0.9" opacity="0.85"/>
<line x1="187.62" y1="569.14" x2="190.82" y2="569.14" stroke="#3cdc3c" stroke-width="0.9" opacity="0.85"/>
<line x1="231.88" y1="565.72" x2="231.88" y2="575.98" stroke="#3cdc3c" stroke-width="0.9" opacity="0.85"/>
<line x1="230.28" y1="565.72" x2="233.48" y2="565.72" stroke="#3cdc3c" stroke-width="0.9" opacity="0.85"/>
<line x1="274.54" y1="559.79" x2="274.54" y2="571.19" stroke="#3cdc3c" stroke-width="0.9" opacity="0.85"/>
<line x1="272.94" y1="559.79" x2="276.14" y2="559.79" stroke="#3cdc3c" stroke-width="0.9" opacity="0.85"/>
<path d="M103.9,592.51 L118.12,591.37 L132.34,587.95 L160.78,584.3 L189.22,577.12 L231.88,575.98 L274.54,571.19" fill="none" stroke="#3cdc3c" stroke-width="1.2"/>
<path d="M103.9,590.31 L106.1,594.11 L101.7,594.11 Z" fill="#3cdc3c"/>
<path d="M118.12,589.17 L120.32,592.97 L115.92,592.97 Z" fill="#3cdc3c"/>
<path d="M132.34,585.75 L134.54,589.55 L130.14,589.55 Z" fill="#3cdc3c"/>
<path d="M160.78,582.1 L162.98,585.9 L158.58,585.9 Z" fill="#3cdc3c"/>
<path d="M189.22,574.92 L191.42,578.72 L187.02,578.72 Z" fill="#3cdc3c"/>
<path d="M231.88,573.78 L234.08,577.58 L229.68,577.58 Z" fill="#3cdc3c"/>
<path d="M274.54,568.99 L276.74,572.79 L272.34,572.79 Z" fill="#3cdc3c"/>
<line x1="103.9" y1="590.23" x2="103.9" y2="592.51" stroke="#ee82dc" stroke-width="0.9" opacity="0.85"/>
<line x1="102.3" y1="590.23" x2="105.5" y2="590.23" stroke="#ee82dc" stroke-width="0.9" opacity="0.85"/>
<line x1="118.12" y1="587.38" x2="118.12" y2="590.8" stroke="#ee82dc" stroke-width="0.9" opacity="0.85"/>
<line x1="116.52" y1="587.38" x2="119.72" y2="587.38" stroke="#ee82dc" stroke-width="0.9" opacity="0.85"/>
<line x1="132.34" y1="582.71" x2="132.34" y2="587.27" stroke="#ee82dc" stroke-width="0.9" opacity="0.85"/>
<line x1="130.74" y1="582.71" x2="133.94" y2="582.71" stroke="#ee82dc" stroke-width="0.9" opacity="0.85"/>
<line x1="160.78" y1="573.93" x2="160.78" y2="580.77" stroke="#ee82dc" stroke-width="0.9" opacity="0.85"/>
<line x1="159.18" y1="573.93" x2="162.38" y2="573.93" stroke="#ee82dc" stroke-width="0.9" opacity="0.85"/>
<line x1="189.22" y1="565.15" x2="189.22" y2="574.27" stroke="#ee82dc" stroke-width="0.9" opacity="0.85"/>
<line x1="187.62" y1="565.15" x2="190.82" y2="565.15" stroke="#ee82dc" stroke-width="0.9" opacity="0.85"/>
<line x1="231.88" y1="555.69" x2="231.88" y2="567.09" stroke="#ee82dc" stroke-width="0.9" opacity="0.85"/>
<line x1="230.28" y1="555.69" x2="233.48" y2="555.69" stroke="#ee82dc" stroke-width="0.9" opacity="0.85"/>
<line x1="274.54" y1="551.36" x2="274.54" y2="563.9" stroke="#ee82dc" stroke-width="0.9" opacity="0.85"/>
<line x1="272.94" y1="551.36" x2="276.14" y2="551.36" stroke="#ee82dc" stroke-width="0.9" opacity="0.85"/>
<path d="M103.9,592.51 L118.12,590.8 L132.34,587.27 L160.78,580.77 L189.22,574.27 L231.88,567.09 L274.54,563.9" fill="none" stroke="#ee82dc" stroke-width="1.2"/>
<path d="M103.9,594.71 L106.1,590.91 L101.7,590.91 Z" fill="#ee82dc"/>
<path d="M118.12,593 L120.32,589.2 L115.92,589.2 Z" fill="#ee82dc"/>
<path d="M132.34,589.47 L134.54,585.67 L130.14,585.67 Z" fill="#ee82dc"/>
<path d="M160.78,582.97 L162.98,579.17 L158.58,579.17 Z" fill="#ee82dc"/>
<path d="M189.22,576.47 L191.42,572.67 L187.02,572.67 Z" fill="#ee82dc"/>
<path d="M231.88,569.29 L234.08,565.49 L229.68,565.49 Z" fill="#ee82dc"/>
<path d="M274.54,566.1 L276.74,562.3 L272.34,562.3 Z" fill="#ee82dc"/>
<line x1="103.9" y1="588.18" x2="103.9" y2="591.6" stroke="#7f7f7f" stroke-width="0.9" opacity="0.85"/>
<line x1="102.3" y1="588.18" x2="105.5" y2="588.18" stroke="#7f7f7f" stroke-width="0.9" opacity="0.85"/>
<line x1="118.12" y1="584.53" x2="118.12" y2="589.09" stroke="#7f7f7f" stroke-width="0.9" opacity="0.85"/>
<line x1="116.52" y1="584.53" x2="119.72" y2="584.53" stroke="#7f7f7f" stroke-width="0.9" opacity="0.85"/>
<line x1="132.34" y1="577.12" x2="132.34" y2="583.96" stroke="#7f7f7f" stroke-width="0.9" opacity="0.85"/>
<line x1="130.74" y1="577.12" x2="133.94" y2="577.12" stroke="#7f7f7f" stroke-width="0.9" opacity="0.85"/>
<line x1="160.78" y1="559.22" x2="160.78" y2="570.62" stroke="#7f7f7f" stroke-width="0.9" opacity="0.85"/>
<line x1="159.18" y1="559.22" x2="162.38" y2="559.22" stroke="#7f7f7f" stroke-width="0.9" opacity="0.85"/>
<line x1="189.22" y1="545.43" x2="189.22" y2="560.25" stroke="#7f7f7f" stroke-width="0.9" opacity="0.85"/>
<line x1="187.62" y1="545.43" x2="190.82" y2="545.43" stroke="#7f7f7f" stroke-width="0.9" opacity="0.85"/>
<line x1="231.88" y1="521.83" x2="231.88" y2="536.65" stroke="#7f7f7f" stroke-width="0.9" opacity="0.85"/>
<line x1="230.28" y1="521.83" x2="233.48" y2="521.83" stroke="#7f7f7f" stroke-width="0.9" opacity="0.85"/>
<line x1="274.54" y1="465.4" x2="274.54" y2="499.6" stroke="#7f7f7f" stroke-width="0.9" opacity="0.85"/>
<line x1="272.94" y1="465.4" x2="276.14" y2="465.4" stroke="#7f7f7f" stroke-width="0.9" opacity="0.85"/>
<path d="M103.9,591.6 L118.12,589.09 L132.34,583.96 L160.78,570.62 L189.22,560.25 L231.88,536.65 L274.54,499.6" fill="none" stroke="#7f7f7f" stroke-width="1.2"/>
<rect x="102.2" y="589.9" width="3.4" height="3.4" fill="#7f7f7f"/>
<rect x="116.42" y="587.39" width="3.4" height="3.4" fill="#7f7f7f"/>
<rect x="130.64" y="582.26" width="3.4" height="3.4" fill="#7f7f7f"/>
<rect x="159.08" y="568.92" width="3.4" height="3.4" fill="#7f7f7f"/>
<rect x="187.52" y="558.55" width="3.4" height="3.4" fill="#7f7f7f"/>
<rect x="230.18" y="534.95" width="3.4" height="3.4" fill="#7f7f7f"/>
<rect x="272.84" y="497.9" width="3.4" height="3.4" fill="#7f7f7f"/>
<line x1="103.9" y1="587.38" x2="103.9" y2="590.8" stroke="#3fe0e0" stroke-width="0.9" opacity="0.85"/>
<line x1="102.3" y1="587.38" x2="105.5" y2="587.38" stroke="#3fe0e0" stroke-width="0.9" opacity="0.85"/>
<line x1="118.12" y1="582.82" x2="118.12" y2="587.38" stroke="#3fe0e0" stroke-width="0.9" opacity="0.85"/>
<line x1="116.52" y1="582.82" x2="119.72" y2="582.82" stroke="#3fe0e0" stroke-width="0.9" opacity="0.85"/>
<line x1="132.34" y1="573.93" x2="132.34" y2="580.77" stroke="#3fe0e0" stroke-width="0.9" opacity="0.85"/>
<line x1="130.74" y1="573.93" x2="133.94" y2="573.93" stroke="#3fe0e0" stroke-width="0.9" opacity="0.85"/>
<line x1="160.78" y1="558.42" x2="160.78" y2="568.68" stroke="#3fe0e0" stroke-width="0.9" opacity="0.85"/>
<line x1="159.18" y1="558.42" x2="162.38" y2="558.42" stroke="#3fe0e0" stroke-width="0.9" opacity="0.85"/>
<line x1="189.22" y1="545.88" x2="189.22" y2="560.7" stroke="#3fe0e0" stroke-width="0.9" opacity="0.85"/>
<line x1="187.62" y1="545.88" x2="190.82" y2="545.88" stroke="#3fe0e0" stroke-width="0.9" opacity="0.85"/>
<line x1="231.88" y1="524.11" x2="231.88" y2="544.63" stroke="#3fe0e0" stroke-width="0.9" opacity="0.85"/>
<line x1="230.28" y1="524.11" x2="233.48" y2="524.11" stroke="#3fe0e0" stroke-width="0.9" opacity="0.85"/>
<line x1="274.54" y1="476.91" x2="274.54" y2="515.67" stroke="#3fe0e0" stroke-width="0.9" opacity="0.85"/>
<line x1="272.94" y1="476.91" x2="276.14" y2="476.91" stroke="#3fe0e0" stroke-width="0.9" opacity="0.85"/>
<path d="M103.9,590.8 L118.12,587.38 L132.34,580.77 L160.78,568.68 L189.22,560.7 L231.88,544.63 L274.54,515.67" fill="none" stroke="#3fe0e0" stroke-width="1.2"/>
<circle cx="103.9" cy="590.8" r="2" fill="#3fe0e0"/>
<circle cx="118.12" cy="587.38" r="2" fill="#3fe0e0"/>
<circle cx="132.34" cy="580.77" r="2" fill="#3fe0e0"/>
<circle cx="160.78" cy="568.68" r="2" fill="#3fe0e0"/>
<circle cx="189.22" cy="560.7" r="2" fill="#3fe0e0"/>
<circle cx="231.88" cy="544.63" r="2" fill="#3fe0e0"/>
<circle cx="274.54" cy="515.67" r="2" fill="#3fe0e0"/>
<line x1="103.9" y1="591.48" x2="103.9" y2="593.19" stroke="#e6105c" stroke-width="0.9" opacity="0.85"/>
<line x1="102.3" y1="591.48" x2="105.5" y2="591.48" stroke="#e6105c" stroke-width="0.9" opacity="0.85"/>
<line x1="118.12" y1="590.57" x2="118.12" y2="592.85" stroke="#e6105c" stroke-width="0.9" opacity="0.85"/>
<line x1="116.52" y1="590.57" x2="119.72" y2="590.57" stroke="#e6105c" stroke-width="0.9" opacity="0.85"/>
<line x1="132.34" y1="588.75" x2="132.34" y2="591.6" stroke="#e6105c" stroke-width="0.9" opacity="0.85"/>
<line x1="130.74" y1="588.75" x2="133.94" y2="588.75" stroke="#e6105c" stroke-width="0.9" opacity="0.85"/>
<line x1="160.78" y1="584.53" x2="160.78" y2="589.09" stroke="#e6105c" stroke-width="0.9" opacity="0.85"/>
<line x1="159.18" y1="584.53" x2="162.38" y2="584.53" stroke="#e6105c" stroke-width="0.9" opacity="0.85"/>
<line x1="189.22" y1="579.17" x2="189.22" y2="586.01" stroke="#e6105c" stroke-width="0.9" opacity="0.85"/>
<line x1="187.62" y1="579.17" x2="190.82" y2="579.17" stroke="#e6105c" stroke-width="0.9" opacity="0.85"/>
<line x1="231.88" y1="574.04" x2="231.88" y2="584.3" stroke="#e6105c" stroke-width="0.9" opacity="0.85"/>
<line x1="230.28" y1="574.04" x2="233.48" y2="574.04" stroke="#e6105c" stroke-width="0.9" opacity="0.85"/>
<line x1="274.54" y1="576.09" x2="274.54" y2="587.49" stroke="#e6105c" stroke-width="0.9" opacity="0.85"/>
<line x1="272.94" y1="576.09" x2="276.14" y2="576.09" stroke="#e6105c" stroke-width="0.9" opacity="0.85"/>
<path d="M103.9,593.19 L118.12,592.85 L132.34,591.6 L160.78,589.09 L189.22,586.01 L231.88,584.3 L274.54,587.49" fill="none" stroke="#e6105c" stroke-width="1.2"/>
<path d="M103.9,590.69 L106.4,593.19 L103.9,595.69 L101.4,593.19 Z" fill="#e6105c"/>
<path d="M118.12,590.35 L120.62,592.85 L118.12,595.35 L115.62,592.85 Z" fill="#e6105c"/>
<path d="M132.34,589.1 L134.84,591.6 L132.34,594.1 L129.84,591.6 Z" fill="#e6105c"/>
<path d="M160.78,586.59 L163.28,589.09 L160.78,591.59 L158.28,589.09 Z" fill="#e6105c"/>
<path d="M189.22,583.51 L191.72,586.01 L189.22,588.51 L186.72,586.01 Z" fill="#e6105c"/>
<path d="M231.88,581.8 L234.38,584.3 L231.88,586.8 L229.38,584.3 Z" fill="#e6105c"/>
<path d="M274.54,584.99 L277.04,587.49 L274.54,589.99 L272.04,587.49 Z" fill="#e6105c"/>
<rect x="89.4" y="443" width="213.6" height="159.2" fill="none" stroke="#2a2a2a" stroke-width="1.3"/>
<line x1="85.4" y1="602.2" x2="89.4" y2="602.2" stroke="#2a2a2a" stroke-width="1.2"/>
<text x="84.2" y="605.5" font-size="17" fill="#111" text-anchor="end">0</text>
<line x1="85.4" y1="556.6" x2="89.4" y2="556.6" stroke="#2a2a2a" stroke-width="1.2"/>
<text x="84.2" y="559.9" font-size="17" fill="#111" text-anchor="end">400</text>
<line x1="85.4" y1="511" x2="89.4" y2="511" stroke="#2a2a2a" stroke-width="1.2"/>
<text x="84.2" y="514.3" font-size="17" fill="#111" text-anchor="end">800</text>
<line x1="85.4" y1="465.4" x2="89.4" y2="465.4" stroke="#2a2a2a" stroke-width="1.2"/>
<text x="84.2" y="468.7" font-size="17" fill="#111" text-anchor="end">1200</text>
<line x1="103.9" y1="602.2" x2="103.9" y2="606.2" stroke="#2a2a2a" stroke-width="1.2"/>
<text x="103.9" y="620.8" font-size="17" fill="#111" text-anchor="middle">0</text>
<line x1="160.78" y1="602.2" x2="160.78" y2="606.2" stroke="#2a2a2a" stroke-width="1.2"/>
<text x="160.78" y="620.8" font-size="17" fill="#111" text-anchor="middle">4</text>
<line x1="217.66" y1="602.2" x2="217.66" y2="606.2" stroke="#2a2a2a" stroke-width="1.2"/>
<text x="217.66" y="620.8" font-size="17" fill="#111" text-anchor="middle">8</text>
<line x1="274.54" y1="602.2" x2="274.54" y2="606.2" stroke="#2a2a2a" stroke-width="1.2"/>
<text x="274.54" y="620.8" font-size="17" fill="#111" text-anchor="middle">12</text>
<text x="197" y="636.2" font-size="16.3" fill="#111" text-anchor="middle">Time (d)</text>
<text x="46.3" y="526" font-size="16.3" fill="#111" text-anchor="middle" transform="rotate(-90 46.3 526)">Volume (mm<tspan font-size="10.5" dy="-6">3</tspan><tspan dy="6">)</tspan></text>
<line x1="96.9" y1="461.5" x2="111.3" y2="461.5" stroke="#7f7f7f" stroke-width="1.3"/>
<rect x="101.38" y="458.78" width="5.44" height="5.44" fill="#7f7f7f"/>
<text x="113.2" y="464.4" font-size="17.3" fill="#111">(i)</text>
<line x1="96.9" y1="483.7" x2="111.3" y2="483.7" stroke="#3fe0e0" stroke-width="1.3"/>
<circle cx="104.1" cy="483.7" r="3.2" fill="#3fe0e0"/>
<text x="115.4" y="486.6" font-size="17.3" fill="#111">(ii)</text>
<line x1="96.9" y1="506" x2="111.3" y2="506" stroke="#3cdc3c" stroke-width="1.3"/>
<path d="M104.1,502.48 L107.62,508.56 L100.58,508.56 Z" fill="#3cdc3c"/>
<text x="115.4" y="508.9" font-size="17.3" fill="#111">(iii)</text>
<line x1="96.9" y1="528.2" x2="111.3" y2="528.2" stroke="#ee82dc" stroke-width="1.3"/>
<path d="M104.1,531.72 L107.62,525.64 L100.58,525.64 Z" fill="#ee82dc"/>
<text x="115.4" y="531.1" font-size="17.3" fill="#111">(iv)</text>
<line x1="96.9" y1="550.5" x2="111.3" y2="550.5" stroke="#e6105c" stroke-width="1.3"/>
<path d="M104.1,546.5 L108.1,550.5 L104.1,554.5 L100.1,550.5 Z" fill="#e6105c"/>
<text x="115.4" y="553.4" font-size="17.3" fill="#111">(v)</text>
<text x="288.2" y="515" font-size="9.6" fill="#333" text-anchor="middle" font-weight="bold" transform="rotate(-90 288.2 515)">###</text>
<path d="M279.6,563.4 H283.7 V588.4 H279.6" fill="none" stroke="#ee60c0" stroke-width="1"/>
<text x="290.2" y="576.6" font-size="10" fill="#333" text-anchor="middle" font-weight="bold" transform="rotate(-90 290.2 576.6)">#</text>
<line x1="294.5" y1="560.2" x2="294.5" y2="591.6" stroke="#222" stroke-width="1.1"/>
<text x="306.5" y="578.3" font-size="13" fill="#222" text-anchor="middle" font-weight="bold" transform="rotate(-90 306.5 578.3)">***</text>
<line x1="394.2" y1="463.65" x2="394.2" y2="488.77" stroke="#3fe0e0" stroke-width="0.9" opacity="0.85"/>
<line x1="392.6" y1="463.65" x2="395.8" y2="463.65" stroke="#3fe0e0" stroke-width="0.9" opacity="0.85"/>
<line x1="392.6" y1="488.77" x2="395.8" y2="488.77" stroke="#3fe0e0" stroke-width="0.9" opacity="0.85"/>
<line x1="409.33" y1="462.33" x2="409.33" y2="487.45" stroke="#3fe0e0" stroke-width="0.9" opacity="0.85"/>
<line x1="407.73" y1="462.33" x2="410.93" y2="462.33" stroke="#3fe0e0" stroke-width="0.9" opacity="0.85"/>
<line x1="407.73" y1="487.45" x2="410.93" y2="487.45" stroke="#3fe0e0" stroke-width="0.9" opacity="0.85"/>
<line x1="424.46" y1="462.33" x2="424.46" y2="487.45" stroke="#3fe0e0" stroke-width="0.9" opacity="0.85"/>
<line x1="422.86" y1="462.33" x2="426.06" y2="462.33" stroke="#3fe0e0" stroke-width="0.9" opacity="0.85"/>
<line x1="422.86" y1="487.45" x2="426.06" y2="487.45" stroke="#3fe0e0" stroke-width="0.9" opacity="0.85"/>
<line x1="439.59" y1="465.63" x2="439.59" y2="490.75" stroke="#3fe0e0" stroke-width="0.9" opacity="0.85"/>
<line x1="437.99" y1="465.63" x2="441.19" y2="465.63" stroke="#3fe0e0" stroke-width="0.9" opacity="0.85"/>
<line x1="437.99" y1="490.75" x2="441.19" y2="490.75" stroke="#3fe0e0" stroke-width="0.9" opacity="0.85"/>
<line x1="454.72" y1="466.96" x2="454.72" y2="492.07" stroke="#3fe0e0" stroke-width="0.9" opacity="0.85"/>
<line x1="453.12" y1="466.96" x2="456.32" y2="466.96" stroke="#3fe0e0" stroke-width="0.9" opacity="0.85"/>
<line x1="453.12" y1="492.07" x2="456.32" y2="492.07" stroke="#3fe0e0" stroke-width="0.9" opacity="0.85"/>
<line x1="484.98" y1="470.26" x2="484.98" y2="495.38" stroke="#3fe0e0" stroke-width="0.9" opacity="0.85"/>
<line x1="483.38" y1="470.26" x2="486.58" y2="470.26" stroke="#3fe0e0" stroke-width="0.9" opacity="0.85"/>
<line x1="483.38" y1="495.38" x2="486.58" y2="495.38" stroke="#3fe0e0" stroke-width="0.9" opacity="0.85"/>
<line x1="500.11" y1="474.89" x2="500.11" y2="500.01" stroke="#3fe0e0" stroke-width="0.9" opacity="0.85"/>
<line x1="498.51" y1="474.89" x2="501.71" y2="474.89" stroke="#3fe0e0" stroke-width="0.9" opacity="0.85"/>
<line x1="498.51" y1="500.01" x2="501.71" y2="500.01" stroke="#3fe0e0" stroke-width="0.9" opacity="0.85"/>
<line x1="530.37" y1="478.19" x2="530.37" y2="503.31" stroke="#3fe0e0" stroke-width="0.9" opacity="0.85"/>
<line x1="528.77" y1="478.19" x2="531.97" y2="478.19" stroke="#3fe0e0" stroke-width="0.9" opacity="0.85"/>
<line x1="528.77" y1="503.31" x2="531.97" y2="503.31" stroke="#3fe0e0" stroke-width="0.9" opacity="0.85"/>
<line x1="545.5" y1="479.51" x2="545.5" y2="504.63" stroke="#3fe0e0" stroke-width="0.9" opacity="0.85"/>
<line x1="543.9" y1="479.51" x2="547.1" y2="479.51" stroke="#3fe0e0" stroke-width="0.9" opacity="0.85"/>
<line x1="543.9" y1="504.63" x2="547.1" y2="504.63" stroke="#3fe0e0" stroke-width="0.9" opacity="0.85"/>
<line x1="575.76" y1="482.16" x2="575.76" y2="507.28" stroke="#3fe0e0" stroke-width="0.9" opacity="0.85"/>
<line x1="574.16" y1="482.16" x2="577.36" y2="482.16" stroke="#3fe0e0" stroke-width="0.9" opacity="0.85"/>
<line x1="574.16" y1="507.28" x2="577.36" y2="507.28" stroke="#3fe0e0" stroke-width="0.9" opacity="0.85"/>
<path d="M394.2,476.21 L409.33,474.89 L424.46,474.89 L439.59,478.19 L454.72,479.51 L484.98,482.82 L500.11,487.45 L530.37,490.75 L545.5,492.07 L575.76,494.72" fill="none" stroke="#3fe0e0" stroke-width="1.2"/>
<circle cx="394.2" cy="476.21" r="1.6" fill="#3fe0e0"/>
<circle cx="409.33" cy="474.89" r="1.6" fill="#3fe0e0"/>
<circle cx="424.46" cy="474.89" r="1.6" fill="#3fe0e0"/>
<circle cx="439.59" cy="478.19" r="1.6" fill="#3fe0e0"/>
<circle cx="454.72" cy="479.51" r="1.6" fill="#3fe0e0"/>
<circle cx="484.98" cy="482.82" r="1.6" fill="#3fe0e0"/>
<circle cx="500.11" cy="487.45" r="1.6" fill="#3fe0e0"/>
<circle cx="530.37" cy="490.75" r="1.6" fill="#3fe0e0"/>
<circle cx="545.5" cy="492.07" r="1.6" fill="#3fe0e0"/>
<circle cx="575.76" cy="494.72" r="1.6" fill="#3fe0e0"/>
<line x1="394.2" y1="457.04" x2="394.2" y2="479.51" stroke="#3cdc3c" stroke-width="0.9" opacity="0.85"/>
<line x1="392.6" y1="457.04" x2="395.8" y2="457.04" stroke="#3cdc3c" stroke-width="0.9" opacity="0.85"/>
<line x1="392.6" y1="479.51" x2="395.8" y2="479.51" stroke="#3cdc3c" stroke-width="0.9" opacity="0.85"/>
<line x1="409.33" y1="461.01" x2="409.33" y2="483.48" stroke="#3cdc3c" stroke-width="0.9" opacity="0.85"/>
<line x1="407.73" y1="461.01" x2="410.93" y2="461.01" stroke="#3cdc3c" stroke-width="0.9" opacity="0.85"/>
<line x1="407.73" y1="483.48" x2="410.93" y2="483.48" stroke="#3cdc3c" stroke-width="0.9" opacity="0.85"/>
<line x1="424.46" y1="462.33" x2="424.46" y2="484.8" stroke="#3cdc3c" stroke-width="0.9" opacity="0.85"/>
<line x1="422.86" y1="462.33" x2="426.06" y2="462.33" stroke="#3cdc3c" stroke-width="0.9" opacity="0.85"/>
<line x1="422.86" y1="484.8" x2="426.06" y2="484.8" stroke="#3cdc3c" stroke-width="0.9" opacity="0.85"/>
<line x1="439.59" y1="467.62" x2="439.59" y2="490.09" stroke="#3cdc3c" stroke-width="0.9" opacity="0.85"/>
<line x1="437.99" y1="467.62" x2="441.19" y2="467.62" stroke="#3cdc3c" stroke-width="0.9" opacity="0.85"/>
<line x1="437.99" y1="490.09" x2="441.19" y2="490.09" stroke="#3cdc3c" stroke-width="0.9" opacity="0.85"/>
<line x1="454.72" y1="470.26" x2="454.72" y2="492.73" stroke="#3cdc3c" stroke-width="0.9" opacity="0.85"/>
<line x1="453.12" y1="470.26" x2="456.32" y2="470.26" stroke="#3cdc3c" stroke-width="0.9" opacity="0.85"/>
<line x1="453.12" y1="492.73" x2="456.32" y2="492.73" stroke="#3cdc3c" stroke-width="0.9" opacity="0.85"/>
<line x1="484.98" y1="476.87" x2="484.98" y2="499.34" stroke="#3cdc3c" stroke-width="0.9" opacity="0.85"/>
<line x1="483.38" y1="476.87" x2="486.58" y2="476.87" stroke="#3cdc3c" stroke-width="0.9" opacity="0.85"/>
<line x1="483.38" y1="499.34" x2="486.58" y2="499.34" stroke="#3cdc3c" stroke-width="0.9" opacity="0.85"/>
<line x1="500.11" y1="478.85" x2="500.11" y2="501.33" stroke="#3cdc3c" stroke-width="0.9" opacity="0.85"/>
<line x1="498.51" y1="478.85" x2="501.71" y2="478.85" stroke="#3cdc3c" stroke-width="0.9" opacity="0.85"/>
<line x1="498.51" y1="501.33" x2="501.71" y2="501.33" stroke="#3cdc3c" stroke-width="0.9" opacity="0.85"/>
<line x1="530.37" y1="488.77" x2="530.37" y2="511.24" stroke="#3cdc3c" stroke-width="0.9" opacity="0.85"/>
<line x1="528.77" y1="488.77" x2="531.97" y2="488.77" stroke="#3cdc3c" stroke-width="0.9" opacity="0.85"/>
<line x1="528.77" y1="511.24" x2="531.97" y2="511.24" stroke="#3cdc3c" stroke-width="0.9" opacity="0.85"/>
<line x1="545.5" y1="490.09" x2="545.5" y2="512.56" stroke="#3cdc3c" stroke-width="0.9" opacity="0.85"/>
<line x1="543.9" y1="490.09" x2="547.1" y2="490.09" stroke="#3cdc3c" stroke-width="0.9" opacity="0.85"/>
<line x1="543.9" y1="512.56" x2="547.1" y2="512.56" stroke="#3cdc3c" stroke-width="0.9" opacity="0.85"/>
<line x1="575.76" y1="490.09" x2="575.76" y2="512.56" stroke="#3cdc3c" stroke-width="0.9" opacity="0.85"/>
<line x1="574.16" y1="490.09" x2="577.36" y2="490.09" stroke="#3cdc3c" stroke-width="0.9" opacity="0.85"/>
<line x1="574.16" y1="512.56" x2="577.36" y2="512.56" stroke="#3cdc3c" stroke-width="0.9" opacity="0.85"/>
<path d="M394.2,468.28 L409.33,472.24 L424.46,473.57 L439.59,478.85 L454.72,481.5 L484.98,488.11 L500.11,490.09 L530.37,500.01 L545.5,501.33 L575.76,501.33" fill="none" stroke="#3cdc3c" stroke-width="1.2"/>
<path d="M394.2,466.52 L395.96,469.56 L392.44,469.56 Z" fill="#3cdc3c"/>
<path d="M409.33,470.48 L411.09,473.52 L407.57,473.52 Z" fill="#3cdc3c"/>
<path d="M424.46,471.81 L426.22,474.85 L422.7,474.85 Z" fill="#3cdc3c"/>
<path d="M439.59,477.09 L441.35,480.13 L437.83,480.13 Z" fill="#3cdc3c"/>
<path d="M454.72,479.74 L456.48,482.78 L452.96,482.78 Z" fill="#3cdc3c"/>
<path d="M484.98,486.35 L486.74,489.39 L483.22,489.39 Z" fill="#3cdc3c"/>
<path d="M500.11,488.33 L501.87,491.37 L498.35,491.37 Z" fill="#3cdc3c"/>
<path d="M530.37,498.25 L532.13,501.29 L528.61,501.29 Z" fill="#3cdc3c"/>
<path d="M545.5,499.57 L547.26,502.61 L543.74,502.61 Z" fill="#3cdc3c"/>
<path d="M575.76,499.57 L577.52,502.61 L574,502.61 Z" fill="#3cdc3c"/>
<line x1="394.2" y1="459.68" x2="394.2" y2="483.48" stroke="#7f7f7f" stroke-width="0.9" opacity="0.85"/>
<line x1="392.6" y1="459.68" x2="395.8" y2="459.68" stroke="#7f7f7f" stroke-width="0.9" opacity="0.85"/>
<line x1="392.6" y1="483.48" x2="395.8" y2="483.48" stroke="#7f7f7f" stroke-width="0.9" opacity="0.85"/>
<line x1="409.33" y1="459.02" x2="409.33" y2="482.82" stroke="#7f7f7f" stroke-width="0.9" opacity="0.85"/>
<line x1="407.73" y1="459.02" x2="410.93" y2="459.02" stroke="#7f7f7f" stroke-width="0.9" opacity="0.85"/>
<line x1="407.73" y1="482.82" x2="410.93" y2="482.82" stroke="#7f7f7f" stroke-width="0.9" opacity="0.85"/>
<line x1="424.46" y1="461.01" x2="424.46" y2="484.8" stroke="#7f7f7f" stroke-width="0.9" opacity="0.85"/>
<line x1="422.86" y1="461.01" x2="426.06" y2="461.01" stroke="#7f7f7f" stroke-width="0.9" opacity="0.85"/>
<line x1="422.86" y1="484.8" x2="426.06" y2="484.8" stroke="#7f7f7f" stroke-width="0.9" opacity="0.85"/>
<line x1="439.59" y1="466.96" x2="439.59" y2="490.75" stroke="#7f7f7f" stroke-width="0.9" opacity="0.85"/>
<line x1="437.99" y1="466.96" x2="441.19" y2="466.96" stroke="#7f7f7f" stroke-width="0.9" opacity="0.85"/>
<line x1="437.99" y1="490.75" x2="441.19" y2="490.75" stroke="#7f7f7f" stroke-width="0.9" opacity="0.85"/>
<line x1="454.72" y1="469.6" x2="454.72" y2="493.4" stroke="#7f7f7f" stroke-width="0.9" opacity="0.85"/>
<line x1="453.12" y1="469.6" x2="456.32" y2="469.6" stroke="#7f7f7f" stroke-width="0.9" opacity="0.85"/>
<line x1="453.12" y1="493.4" x2="456.32" y2="493.4" stroke="#7f7f7f" stroke-width="0.9" opacity="0.85"/>
<line x1="484.98" y1="475.55" x2="484.98" y2="499.34" stroke="#7f7f7f" stroke-width="0.9" opacity="0.85"/>
<line x1="483.38" y1="475.55" x2="486.58" y2="475.55" stroke="#7f7f7f" stroke-width="0.9" opacity="0.85"/>
<line x1="483.38" y1="499.34" x2="486.58" y2="499.34" stroke="#7f7f7f" stroke-width="0.9" opacity="0.85"/>
<line x1="500.11" y1="477.53" x2="500.11" y2="501.33" stroke="#7f7f7f" stroke-width="0.9" opacity="0.85"/>
<line x1="498.51" y1="477.53" x2="501.71" y2="477.53" stroke="#7f7f7f" stroke-width="0.9" opacity="0.85"/>
<line x1="498.51" y1="501.33" x2="501.71" y2="501.33" stroke="#7f7f7f" stroke-width="0.9" opacity="0.85"/>
<line x1="530.37" y1="482.16" x2="530.37" y2="505.95" stroke="#7f7f7f" stroke-width="0.9" opacity="0.85"/>
<line x1="528.77" y1="482.16" x2="531.97" y2="482.16" stroke="#7f7f7f" stroke-width="0.9" opacity="0.85"/>
<line x1="528.77" y1="505.95" x2="531.97" y2="505.95" stroke="#7f7f7f" stroke-width="0.9" opacity="0.85"/>
<line x1="545.5" y1="479.51" x2="545.5" y2="503.31" stroke="#7f7f7f" stroke-width="0.9" opacity="0.85"/>
<line x1="543.9" y1="479.51" x2="547.1" y2="479.51" stroke="#7f7f7f" stroke-width="0.9" opacity="0.85"/>
<line x1="543.9" y1="503.31" x2="547.1" y2="503.31" stroke="#7f7f7f" stroke-width="0.9" opacity="0.85"/>
<line x1="575.76" y1="476.87" x2="575.76" y2="500.67" stroke="#7f7f7f" stroke-width="0.9" opacity="0.85"/>
<line x1="574.16" y1="476.87" x2="577.36" y2="476.87" stroke="#7f7f7f" stroke-width="0.9" opacity="0.85"/>
<line x1="574.16" y1="500.67" x2="577.36" y2="500.67" stroke="#7f7f7f" stroke-width="0.9" opacity="0.85"/>
<path d="M394.2,471.58 L409.33,470.92 L424.46,472.9 L439.59,478.85 L454.72,481.5 L484.98,487.45 L500.11,489.43 L530.37,494.06 L545.5,491.41 L575.76,488.77" fill="none" stroke="#7f7f7f" stroke-width="1.2"/>
<rect x="392.84" y="470.22" width="2.72" height="2.72" fill="#7f7f7f"/>
<rect x="407.97" y="469.56" width="2.72" height="2.72" fill="#7f7f7f"/>
<rect x="423.1" y="471.54" width="2.72" height="2.72" fill="#7f7f7f"/>
<rect x="438.23" y="477.49" width="2.72" height="2.72" fill="#7f7f7f"/>
<rect x="453.36" y="480.14" width="2.72" height="2.72" fill="#7f7f7f"/>
<rect x="483.62" y="486.09" width="2.72" height="2.72" fill="#7f7f7f"/>
<rect x="498.75" y="488.07" width="2.72" height="2.72" fill="#7f7f7f"/>
<rect x="529.01" y="492.7" width="2.72" height="2.72" fill="#7f7f7f"/>
<rect x="544.14" y="490.05" width="2.72" height="2.72" fill="#7f7f7f"/>
<rect x="574.4" y="487.41" width="2.72" height="2.72" fill="#7f7f7f"/>
<line x1="394.2" y1="462.33" x2="394.2" y2="496.7" stroke="#ee82dc" stroke-width="0.9" opacity="0.85"/>
<line x1="392.6" y1="462.33" x2="395.8" y2="462.33" stroke="#ee82dc" stroke-width="0.9" opacity="0.85"/>
<line x1="392.6" y1="496.7" x2="395.8" y2="496.7" stroke="#ee82dc" stroke-width="0.9" opacity="0.85"/>
<line x1="409.33" y1="458.36" x2="409.33" y2="492.73" stroke="#ee82dc" stroke-width="0.9" opacity="0.85"/>
<line x1="407.73" y1="458.36" x2="410.93" y2="458.36" stroke="#ee82dc" stroke-width="0.9" opacity="0.85"/>
<line x1="407.73" y1="492.73" x2="410.93" y2="492.73" stroke="#ee82dc" stroke-width="0.9" opacity="0.85"/>
<line x1="424.46" y1="458.36" x2="424.46" y2="492.73" stroke="#ee82dc" stroke-width="0.9" opacity="0.85"/>
<line x1="422.86" y1="458.36" x2="426.06" y2="458.36" stroke="#ee82dc" stroke-width="0.9" opacity="0.85"/>
<line x1="422.86" y1="492.73" x2="426.06" y2="492.73" stroke="#ee82dc" stroke-width="0.9" opacity="0.85"/>
<line x1="439.59" y1="461.67" x2="439.59" y2="496.04" stroke="#ee82dc" stroke-width="0.9" opacity="0.85"/>
<line x1="437.99" y1="461.67" x2="441.19" y2="461.67" stroke="#ee82dc" stroke-width="0.9" opacity="0.85"/>
<line x1="437.99" y1="496.04" x2="441.19" y2="496.04" stroke="#ee82dc" stroke-width="0.9" opacity="0.85"/>
<line x1="454.72" y1="462.33" x2="454.72" y2="496.7" stroke="#ee82dc" stroke-width="0.9" opacity="0.85"/>
<line x1="453.12" y1="462.33" x2="456.32" y2="462.33" stroke="#ee82dc" stroke-width="0.9" opacity="0.85"/>
<line x1="453.12" y1="496.7" x2="456.32" y2="496.7" stroke="#ee82dc" stroke-width="0.9" opacity="0.85"/>
<line x1="484.98" y1="466.29" x2="484.98" y2="500.67" stroke="#ee82dc" stroke-width="0.9" opacity="0.85"/>
<line x1="483.38" y1="466.29" x2="486.58" y2="466.29" stroke="#ee82dc" stroke-width="0.9" opacity="0.85"/>
<line x1="483.38" y1="500.67" x2="486.58" y2="500.67" stroke="#ee82dc" stroke-width="0.9" opacity="0.85"/>
<line x1="500.11" y1="472.24" x2="500.11" y2="506.62" stroke="#ee82dc" stroke-width="0.9" opacity="0.85"/>
<line x1="498.51" y1="472.24" x2="501.71" y2="472.24" stroke="#ee82dc" stroke-width="0.9" opacity="0.85"/>
<line x1="498.51" y1="506.62" x2="501.71" y2="506.62" stroke="#ee82dc" stroke-width="0.9" opacity="0.85"/>
<line x1="530.37" y1="476.87" x2="530.37" y2="511.24" stroke="#ee82dc" stroke-width="0.9" opacity="0.85"/>
<line x1="528.77" y1="476.87" x2="531.97" y2="476.87" stroke="#ee82dc" stroke-width="0.9" opacity="0.85"/>
<line x1="528.77" y1="511.24" x2="531.97" y2="511.24" stroke="#ee82dc" stroke-width="0.9" opacity="0.85"/>
<line x1="545.5" y1="475.55" x2="545.5" y2="509.92" stroke="#ee82dc" stroke-width="0.9" opacity="0.85"/>
<line x1="543.9" y1="475.55" x2="547.1" y2="475.55" stroke="#ee82dc" stroke-width="0.9" opacity="0.85"/>
<line x1="543.9" y1="509.92" x2="547.1" y2="509.92" stroke="#ee82dc" stroke-width="0.9" opacity="0.85"/>
<line x1="575.76" y1="472.24" x2="575.76" y2="506.62" stroke="#ee82dc" stroke-width="0.9" opacity="0.85"/>
<line x1="574.16" y1="472.24" x2="577.36" y2="472.24" stroke="#ee82dc" stroke-width="0.9" opacity="0.85"/>
<line x1="574.16" y1="506.62" x2="577.36" y2="506.62" stroke="#ee82dc" stroke-width="0.9" opacity="0.85"/>
<path d="M394.2,479.51 L409.33,475.55 L424.46,475.55 L439.59,478.85 L454.72,479.51 L484.98,483.48 L500.11,489.43 L530.37,494.06 L545.5,492.73 L575.76,489.43" fill="none" stroke="#ee82dc" stroke-width="1.2"/>
<path d="M394.2,481.27 L395.96,478.23 L392.44,478.23 Z" fill="#ee82dc"/>
<path d="M409.33,477.31 L411.09,474.27 L407.57,474.27 Z" fill="#ee82dc"/>
<path d="M424.46,477.31 L426.22,474.27 L422.7,474.27 Z" fill="#ee82dc"/>
<path d="M439.59,480.61 L441.35,477.57 L437.83,477.57 Z" fill="#ee82dc"/>
<path d="M454.72,481.27 L456.48,478.23 L452.96,478.23 Z" fill="#ee82dc"/>
<path d="M484.98,485.24 L486.74,482.2 L483.22,482.2 Z" fill="#ee82dc"/>
<path d="M500.11,491.19 L501.87,488.15 L498.35,488.15 Z" fill="#ee82dc"/>
<path d="M530.37,495.82 L532.13,492.78 L528.61,492.78 Z" fill="#ee82dc"/>
<path d="M545.5,494.49 L547.26,491.45 L543.74,491.45 Z" fill="#ee82dc"/>
<path d="M575.76,491.19 L577.52,488.15 L574,488.15 Z" fill="#ee82dc"/>
<line x1="394.2" y1="457.04" x2="394.2" y2="492.73" stroke="#e6105c" stroke-width="0.9" opacity="0.85"/>
<line x1="392.6" y1="457.04" x2="395.8" y2="457.04" stroke="#e6105c" stroke-width="0.9" opacity="0.85"/>
<line x1="392.6" y1="492.73" x2="395.8" y2="492.73" stroke="#e6105c" stroke-width="0.9" opacity="0.85"/>
<line x1="409.33" y1="454.07" x2="409.33" y2="489.76" stroke="#e6105c" stroke-width="0.9" opacity="0.85"/>
<line x1="407.73" y1="454.07" x2="410.93" y2="454.07" stroke="#e6105c" stroke-width="0.9" opacity="0.85"/>
<line x1="407.73" y1="489.76" x2="410.93" y2="489.76" stroke="#e6105c" stroke-width="0.9" opacity="0.85"/>
<line x1="424.46" y1="455.72" x2="424.46" y2="491.41" stroke="#e6105c" stroke-width="0.9" opacity="0.85"/>
<line x1="422.86" y1="455.72" x2="426.06" y2="455.72" stroke="#e6105c" stroke-width="0.9" opacity="0.85"/>
<line x1="422.86" y1="491.41" x2="426.06" y2="491.41" stroke="#e6105c" stroke-width="0.9" opacity="0.85"/>
<line x1="439.59" y1="461.01" x2="439.59" y2="496.7" stroke="#e6105c" stroke-width="0.9" opacity="0.85"/>
<line x1="437.99" y1="461.01" x2="441.19" y2="461.01" stroke="#e6105c" stroke-width="0.9" opacity="0.85"/>
<line x1="437.99" y1="496.7" x2="441.19" y2="496.7" stroke="#e6105c" stroke-width="0.9" opacity="0.85"/>
<line x1="454.72" y1="462.99" x2="454.72" y2="498.68" stroke="#e6105c" stroke-width="0.9" opacity="0.85"/>
<line x1="453.12" y1="462.99" x2="456.32" y2="462.99" stroke="#e6105c" stroke-width="0.9" opacity="0.85"/>
<line x1="453.12" y1="498.68" x2="456.32" y2="498.68" stroke="#e6105c" stroke-width="0.9" opacity="0.85"/>
<line x1="484.98" y1="469.6" x2="484.98" y2="505.29" stroke="#e6105c" stroke-width="0.9" opacity="0.85"/>
<line x1="483.38" y1="469.6" x2="486.58" y2="469.6" stroke="#e6105c" stroke-width="0.9" opacity="0.85"/>
<line x1="483.38" y1="505.29" x2="486.58" y2="505.29" stroke="#e6105c" stroke-width="0.9" opacity="0.85"/>
<line x1="500.11" y1="471.58" x2="500.11" y2="507.28" stroke="#e6105c" stroke-width="0.9" opacity="0.85"/>
<line x1="498.51" y1="471.58" x2="501.71" y2="471.58" stroke="#e6105c" stroke-width="0.9" opacity="0.85"/>
<line x1="498.51" y1="507.28" x2="501.71" y2="507.28" stroke="#e6105c" stroke-width="0.9" opacity="0.85"/>
<line x1="530.37" y1="476.87" x2="530.37" y2="512.56" stroke="#e6105c" stroke-width="0.9" opacity="0.85"/>
<line x1="528.77" y1="476.87" x2="531.97" y2="476.87" stroke="#e6105c" stroke-width="0.9" opacity="0.85"/>
<line x1="528.77" y1="512.56" x2="531.97" y2="512.56" stroke="#e6105c" stroke-width="0.9" opacity="0.85"/>
<line x1="545.5" y1="474.23" x2="545.5" y2="509.92" stroke="#e6105c" stroke-width="0.9" opacity="0.85"/>
<line x1="543.9" y1="474.23" x2="547.1" y2="474.23" stroke="#e6105c" stroke-width="0.9" opacity="0.85"/>
<line x1="543.9" y1="509.92" x2="547.1" y2="509.92" stroke="#e6105c" stroke-width="0.9" opacity="0.85"/>
<line x1="575.76" y1="472.24" x2="575.76" y2="507.94" stroke="#e6105c" stroke-width="0.9" opacity="0.85"/>
<line x1="574.16" y1="472.24" x2="577.36" y2="472.24" stroke="#e6105c" stroke-width="0.9" opacity="0.85"/>
<line x1="574.16" y1="507.94" x2="577.36" y2="507.94" stroke="#e6105c" stroke-width="0.9" opacity="0.85"/>
<path d="M394.2,474.89 L409.33,471.91 L424.46,473.57 L439.59,478.85 L454.72,480.84 L484.98,487.45 L500.11,489.43 L530.37,494.72 L545.5,492.07 L575.76,490.09" fill="none" stroke="#e6105c" stroke-width="1.2"/>
<path d="M394.2,472.89 L396.2,474.89 L394.2,476.89 L392.2,474.89 Z" fill="#e6105c"/>
<path d="M409.33,469.91 L411.33,471.91 L409.33,473.91 L407.33,471.91 Z" fill="#e6105c"/>
<path d="M424.46,471.57 L426.46,473.57 L424.46,475.57 L422.46,473.57 Z" fill="#e6105c"/>
<path d="M439.59,476.85 L441.59,478.85 L439.59,480.85 L437.59,478.85 Z" fill="#e6105c"/>
<path d="M454.72,478.84 L456.72,480.84 L454.72,482.84 L452.72,480.84 Z" fill="#e6105c"/>
<path d="M484.98,485.45 L486.98,487.45 L484.98,489.45 L482.98,487.45 Z" fill="#e6105c"/>
<path d="M500.11,487.43 L502.11,489.43 L500.11,491.43 L498.11,489.43 Z" fill="#e6105c"/>
<path d="M530.37,492.72 L532.37,494.72 L530.37,496.72 L528.37,494.72 Z" fill="#e6105c"/>
<path d="M545.5,490.07 L547.5,492.07 L545.5,494.07 L543.5,492.07 Z" fill="#e6105c"/>
<path d="M575.76,488.09 L577.76,490.09 L575.76,492.09 L573.76,490.09 Z" fill="#e6105c"/>
<rect x="380.1" y="443.2" width="210.2" height="158.6" fill="none" stroke="#2a2a2a" stroke-width="1.3"/>
<line x1="376.1" y1="601.8" x2="380.1" y2="601.8" stroke="#2a2a2a" stroke-width="1.2"/>
<text x="373.3" y="604.6" font-size="15.8" fill="#111" text-anchor="end">0</text>
<line x1="376.1" y1="562.14" x2="380.1" y2="562.14" stroke="#2a2a2a" stroke-width="1.2"/>
<text x="373.3" y="564.94" font-size="15.8" fill="#111" text-anchor="end">6</text>
<line x1="376.1" y1="522.48" x2="380.1" y2="522.48" stroke="#2a2a2a" stroke-width="1.2"/>
<text x="373.3" y="525.28" font-size="15.8" fill="#111" text-anchor="end">12</text>
<line x1="376.1" y1="482.82" x2="380.1" y2="482.82" stroke="#2a2a2a" stroke-width="1.2"/>
<text x="373.3" y="485.62" font-size="15.8" fill="#111" text-anchor="end">18</text>
<line x1="376.1" y1="443.16" x2="380.1" y2="443.16" stroke="#2a2a2a" stroke-width="1.2"/>
<text x="373.3" y="445.96" font-size="15.8" fill="#111" text-anchor="end">24</text>
<line x1="394.2" y1="601.8" x2="394.2" y2="605.8" stroke="#2a2a2a" stroke-width="1.2"/>
<text x="394.2" y="621" font-size="16.4" fill="#111" text-anchor="middle">0</text>
<line x1="454.72" y1="601.8" x2="454.72" y2="605.8" stroke="#2a2a2a" stroke-width="1.2"/>
<text x="454.72" y="621" font-size="16.4" fill="#111" text-anchor="middle">4</text>
<line x1="515.24" y1="601.8" x2="515.24" y2="605.8" stroke="#2a2a2a" stroke-width="1.2"/>
<text x="515.24" y="621" font-size="16.4" fill="#111" text-anchor="middle">8</text>
<line x1="575.76" y1="601.8" x2="575.76" y2="605.8" stroke="#2a2a2a" stroke-width="1.2"/>
<text x="575.76" y="621" font-size="16.4" fill="#111" text-anchor="middle">12</text>
<text x="485" y="637.6" font-size="16.3" fill="#111" text-anchor="middle">Time (d)</text>
<text x="350.8" y="522.5" font-size="16.3" fill="#111" text-anchor="middle" transform="rotate(-90 350.8 522.5)">Weight (g)</text>
<line x1="387.6" y1="558.4" x2="402" y2="558.4" stroke="#7f7f7f" stroke-width="1.3"/>
<rect x="392.08" y="555.68" width="5.44" height="5.44" fill="#7f7f7f"/>
<text x="407.4" y="561.3" font-size="17.3" fill="#111">(i)</text>
<line x1="440.4" y1="558.4" x2="454.8" y2="558.4" stroke="#3fe0e0" stroke-width="1.3"/>
<circle cx="447.6" cy="558.4" r="3.2" fill="#3fe0e0"/>
<text x="460.2" y="561.3" font-size="17.3" fill="#111">(ii)</text>
<line x1="497" y1="558.4" x2="511.4" y2="558.4" stroke="#3cdc3c" stroke-width="1.3"/>
<path d="M504.2,554.88 L507.72,560.96 L500.68,560.96 Z" fill="#3cdc3c"/>
<text x="515.9" y="561.3" font-size="17.3" fill="#111">(iii)</text>
<line x1="387.6" y1="580.4" x2="402" y2="580.4" stroke="#ee82dc" stroke-width="1.3"/>
<path d="M394.8,583.92 L398.32,577.84 L391.28,577.84 Z" fill="#ee82dc"/>
<text x="407.4" y="583.3" font-size="17.3" fill="#111">(iv)</text>
<line x1="440.4" y1="580.4" x2="454.8" y2="580.4" stroke="#e6105c" stroke-width="1.3"/>
<path d="M447.6,576.4 L451.6,580.4 L447.6,584.4 L443.6,580.4 Z" fill="#e6105c"/>
<text x="460.2" y="583.3" font-size="17.3" fill="#111">(v)</text>
<rect x="24.1" y="646" width="566.4" height="50.4" fill="none" stroke="#1a1a1a" stroke-width="2.2" stroke-dasharray="2.1 1.9"/>
<text x="51.8" y="668.3" font-size="17.6" fill="#111">(i):</text>
<text x="86.3" y="668.3" font-size="17.6" fill="#111">PBS</text>
<text x="227.3" y="668.3" font-size="17.6" fill="#111">(ii) : DPMs</text>
<text x="428.7" y="668.3" font-size="17.6" fill="#111">(iii): DPMs@DOX</text>
<text x="45.2" y="690.3" font-size="17.6" fill="#111">(iv): <tspan font-size="10.8" dy="-6.4">177</tspan><tspan dy="6.4">Lu-DPMs</tspan></text>
<text x="231.7" y="690.3" font-size="17.6" fill="#111">(v): <tspan font-size="10.8" dy="-6.4">177</tspan><tspan dy="6.4">Lu-DPMs@DOX</tspan></text>
<g filter="url(#rough)" transform="rotate(-8 712.2 460)"><ellipse cx="712.2" cy="460" rx="18.5" ry="14.8" fill="url(#tg0)"/><ellipse cx="707.58" cy="454.82" rx="12.95" ry="7.4" fill="#220d0f" opacity="0.75"/><circle cx="709.43" cy="457.04" r="1.3" fill="#e8c8c8" opacity="0.45"/><circle cx="717.75" cy="461.48" r="0.93" fill="#e8c8c8" opacity="0.35"/></g>
<g filter="url(#rough)" transform="rotate(0 764.6 458.2)"><ellipse cx="764.6" cy="458.2" rx="17.6" ry="18.5" fill="url(#tg1)"/><circle cx="761.96" cy="454.5" r="1.23" fill="#e8c8c8" opacity="0.45"/><circle cx="769.88" cy="460.05" r="0.88" fill="#e8c8c8" opacity="0.35"/></g>
<g filter="url(#rough)" transform="rotate(10 814.8 460)"><ellipse cx="814.8" cy="460" rx="18.6" ry="18.6" fill="url(#tg2)"/><circle cx="812.01" cy="456.28" r="1.3" fill="#e8c8c8" opacity="0.45"/><circle cx="820.38" cy="461.86" r="0.93" fill="#e8c8c8" opacity="0.35"/></g>
<g filter="url(#rough)" transform="rotate(0 868.3 459.3)"><ellipse cx="868.3" cy="459.3" rx="14.8" ry="13.5" fill="url(#tg3)"/><circle cx="866.08" cy="456.6" r="1.04" fill="#e8c8c8" opacity="0.45"/><circle cx="872.74" cy="460.65" r="0.74" fill="#e8c8c8" opacity="0.35"/></g>
<g filter="url(#rough)" transform="rotate(0 922.5 460)"><ellipse cx="922.5" cy="460" rx="16.5" ry="14.6" fill="url(#tg4)"/><circle cx="920.02" cy="457.08" r="1.16" fill="#e8c8c8" opacity="0.45"/><circle cx="927.45" cy="461.46" r="0.83" fill="#e8c8c8" opacity="0.35"/></g>
<g filter="url(#rough)" transform="rotate(0 711.9 514.2)"><ellipse cx="711.9" cy="514.2" rx="14.3" ry="13.2" fill="url(#tg5)"/><ellipse cx="708.32" cy="509.58" rx="10.01" ry="6.6" fill="#2a1114" opacity="0.75"/><circle cx="709.75" cy="511.56" r="1" fill="#e8c8c8" opacity="0.45"/><circle cx="716.19" cy="515.52" r="0.72" fill="#e8c8c8" opacity="0.35"/></g>
<g filter="url(#rough)" transform="rotate(0 765.3 513.5)"><ellipse cx="765.3" cy="513.5" rx="17" ry="17.8" fill="url(#tg6)"/><circle cx="762.75" cy="509.94" r="1.19" fill="#e8c8c8" opacity="0.45"/><circle cx="770.4" cy="515.28" r="0.85" fill="#e8c8c8" opacity="0.35"/></g>
<g filter="url(#rough)" transform="rotate(0 816 515.3)"><ellipse cx="816" cy="515.3" rx="15.8" ry="14.8" fill="url(#tg7)"/><circle cx="813.63" cy="512.34" r="1.11" fill="#e8c8c8" opacity="0.45"/><circle cx="820.74" cy="516.78" r="0.79" fill="#e8c8c8" opacity="0.35"/></g>
<g filter="url(#rough)" transform="rotate(0 867.2 513.5)"><ellipse cx="867.2" cy="513.5" rx="18.6" ry="16.8" fill="url(#tg8)"/><ellipse cx="863.48" cy="510.98" rx="13.95" ry="11.76" fill="#2a1218" opacity="0.85"/><ellipse cx="875.57" cy="520.22" rx="7.44" ry="6.72" fill="#7a3a40" opacity="0.7"/><circle cx="864.41" cy="510.14" r="1.3" fill="#e8c8c8" opacity="0.45"/><circle cx="872.78" cy="515.18" r="0.93" fill="#e8c8c8" opacity="0.35"/></g>
<g filter="url(#rough)" transform="rotate(0 921.4 514.2)"><ellipse cx="921.4" cy="514.2" rx="17.8" ry="16.8" fill="url(#tg9)"/><ellipse cx="916.95" cy="508.32" rx="12.46" ry="8.4" fill="#2a1114" opacity="0.75"/><circle cx="918.73" cy="510.84" r="1.25" fill="#e8c8c8" opacity="0.45"/><circle cx="926.74" cy="515.88" r="0.89" fill="#e8c8c8" opacity="0.35"/></g>
<g filter="url(#rough)" transform="rotate(0 712.2 566)"><ellipse cx="712.2" cy="566" rx="11.4" ry="11.8" fill="url(#tg10)"/><circle cx="710.49" cy="563.64" r="0.8" fill="#e8c8c8" opacity="0.45"/><circle cx="715.62" cy="567.18" r="0.7" fill="#e8c8c8" opacity="0.35"/></g>
<g filter="url(#rough)" transform="rotate(0 765.3 566.4)"><ellipse cx="765.3" cy="566.4" rx="15" ry="10.6" fill="url(#tg11)"/><circle cx="763.05" cy="564.28" r="1.05" fill="#e8c8c8" opacity="0.45"/><circle cx="769.8" cy="567.46" r="0.75" fill="#e8c8c8" opacity="0.35"/></g>
<g filter="url(#rough)" transform="rotate(0 816 566)"><ellipse cx="816" cy="566" rx="12.4" ry="11.4" fill="url(#tg12)"/><circle cx="814.14" cy="563.72" r="0.87" fill="#e8c8c8" opacity="0.45"/><circle cx="819.72" cy="567.14" r="0.7" fill="#e8c8c8" opacity="0.35"/></g>
<g filter="url(#rough)" transform="rotate(0 867.2 567)"><ellipse cx="867.2" cy="567" rx="9.8" ry="10.6" fill="url(#tg13)"/><circle cx="865.73" cy="564.88" r="0.8" fill="#e8c8c8" opacity="0.45"/><circle cx="870.14" cy="568.06" r="0.7" fill="#e8c8c8" opacity="0.35"/></g>
<g filter="url(#rough)" transform="rotate(0 921.8 567)"><ellipse cx="921.8" cy="567" rx="8.8" ry="8.1" fill="url(#tg14)"/><circle cx="920.48" cy="565.38" r="0.8" fill="#e8c8c8" opacity="0.45"/><circle cx="924.44" cy="567.81" r="0.7" fill="#e8c8c8" opacity="0.35"/></g>
<g filter="url(#rough)" transform="rotate(0 711.2 610.4)"><ellipse cx="711.2" cy="610.4" rx="11.4" ry="9.8" fill="url(#tg15)"/><circle cx="709.49" cy="608.44" r="0.8" fill="#e8c8c8" opacity="0.45"/><circle cx="714.62" cy="611.38" r="0.7" fill="#e8c8c8" opacity="0.35"/></g>
<g filter="url(#rough)" transform="rotate(0 764.3 611.2)"><ellipse cx="764.3" cy="611.2" rx="12.4" ry="10.6" fill="url(#tg16)"/><circle cx="762.44" cy="609.08" r="0.87" fill="#e8c8c8" opacity="0.45"/><circle cx="768.02" cy="612.26" r="0.7" fill="#e8c8c8" opacity="0.35"/></g>
<g filter="url(#rough)" transform="rotate(0 814.8 613.3)"><ellipse cx="814.8" cy="613.3" rx="13.5" ry="12.4" fill="url(#tg17)"/><circle cx="812.77" cy="610.82" r="0.95" fill="#e8c8c8" opacity="0.45"/><circle cx="818.85" cy="614.54" r="0.7" fill="#e8c8c8" opacity="0.35"/></g>
<g filter="url(#rough)" transform="rotate(-20 869 613.3)"><ellipse cx="869" cy="613.3" rx="11.4" ry="9.8" fill="url(#tg18)"/><circle cx="867.29" cy="611.34" r="0.8" fill="#e8c8c8" opacity="0.45"/><circle cx="872.42" cy="614.28" r="0.7" fill="#e8c8c8" opacity="0.35"/></g>
<g filter="url(#rough)" transform="rotate(0 921.4 615)"><ellipse cx="921.4" cy="615" rx="14.3" ry="11.8" fill="url(#tg19)"/><circle cx="919.25" cy="612.64" r="1" fill="#e8c8c8" opacity="0.45"/><circle cx="925.69" cy="616.18" r="0.72" fill="#e8c8c8" opacity="0.35"/></g>
<g filter="url(#rough)" transform="rotate(0 711.2 660)"><ellipse cx="711.2" cy="660" rx="8.8" ry="8.5" fill="url(#tg20)"/><circle cx="709.88" cy="658.3" r="0.8" fill="#e8c8c8" opacity="0.45"/><circle cx="713.84" cy="660.85" r="0.7" fill="#e8c8c8" opacity="0.35"/></g>
<g filter="url(#rough)" transform="rotate(0 765.3 660)"><ellipse cx="765.3" cy="660" rx="9.6" ry="9.6" fill="url(#tg21)"/><circle cx="763.86" cy="658.08" r="0.8" fill="#e8c8c8" opacity="0.45"/><circle cx="768.18" cy="660.96" r="0.7" fill="#e8c8c8" opacity="0.35"/></g>
<g filter="url(#rough)" transform="rotate(0 816 659.2)"><ellipse cx="816" cy="659.2" rx="8.5" ry="8.5" fill="url(#tg22)"/><circle cx="814.73" cy="657.5" r="0.8" fill="#e8c8c8" opacity="0.45"/><circle cx="818.55" cy="660.05" r="0.7" fill="#e8c8c8" opacity="0.35"/></g>
<g filter="url(#rough)" transform="rotate(0 867.2 660)"><ellipse cx="867.2" cy="660" rx="6.3" ry="7" fill="url(#tg23)"/><circle cx="866.25" cy="658.6" r="0.8" fill="#e8c8c8" opacity="0.45"/><circle cx="869.09" cy="660.7" r="0.7" fill="#e8c8c8" opacity="0.35"/></g>
<g filter="url(#rough)" transform="rotate(0 921.8 661.7)"><ellipse cx="921.8" cy="661.7" rx="6.3" ry="4.8" fill="url(#tg24)"/><circle cx="920.85" cy="660.74" r="0.8" fill="#e8c8c8" opacity="0.45"/><circle cx="923.69" cy="662.18" r="0.7" fill="#e8c8c8" opacity="0.35"/></g>
<text x="665.3" y="466" font-size="18.3" fill="#111" text-anchor="middle">(i)</text>
<text x="663.5" y="517.8" font-size="18.3" fill="#111" text-anchor="middle">(ii)</text>
<text x="661.4" y="569.8" font-size="18.3" fill="#111" text-anchor="middle">(iii)</text>
<text x="660.7" y="614.4" font-size="18.3" fill="#111" text-anchor="middle">(iv)</text>
<text x="663" y="665.2" font-size="18.3" fill="#111" text-anchor="middle">(v)</text>
<rect x="692.6" y="670.6" width="248.4" height="29.2" fill="url(#rul)"/>
<path d="M694.47,671v4.6 M696.74,671v4.6 M699.02,671v7 M701.3,671v4.6 M703.57,671v4.6 M705.85,671v4.6 M708.12,671v4.6 M710.4,671v9 M712.68,671v4.6 M714.95,671v4.6 M717.23,671v4.6 M719.5,671v4.6 M721.78,671v7 M724.06,671v4.6 M726.33,671v4.6 M728.61,671v4.6 M730.88,671v4.6 M733.16,671v9 M735.44,671v4.6 M737.71,671v4.6 M739.99,671v4.6 M742.26,671v4.6 M744.54,671v7 M746.82,671v4.6 M749.09,671v4.6 M751.37,671v4.6 M753.64,671v4.6 M755.92,671v9 M758.2,671v4.6 M760.47,671v4.6 M762.75,671v4.6 M765.02,671v4.6 M767.3,671v7 M769.58,671v4.6 M771.85,671v4.6 M774.13,671v4.6 M776.4,671v4.6 M778.68,671v9 M780.96,671v4.6 M783.23,671v4.6 M785.51,671v4.6 M787.78,671v4.6 M790.06,671v7 M792.34,671v4.6 M794.61,671v4.6 M796.89,671v4.6 M799.16,671v4.6 M801.44,671v9 M803.72,671v4.6 M805.99,671v4.6 M808.27,671v4.6 M810.54,671v4.6 M812.82,671v7 M815.1,671v4.6 M817.37,671v4.6 M819.65,671v4.6 M821.92,671v4.6 M824.2,671v9 M826.48,671v4.6 M828.75,671v4.6 M831.03,671v4.6 M833.3,671v4.6 M835.58,671v7 M837.86,671v4.6 M840.13,671v4.6 M842.41,671v4.6 M844.68,671v4.6 M846.96,671v9 M849.24,671v4.6 M851.51,671v4.6 M853.79,671v4.6 M856.06,671v4.6 M858.34,671v7 M860.62,671v4.6 M862.89,671v4.6 M865.17,671v4.6 M867.44,671v4.6 M869.72,671v9 M872,671v4.6 M874.27,671v4.6 M876.55,671v4.6 M878.82,671v4.6 M881.1,671v7 M883.38,671v4.6 M885.65,671v4.6 M887.93,671v4.6 M890.2,671v4.6 M892.48,671v9 M894.76,671v4.6 M897.03,671v4.6 M899.31,671v4.6 M901.58,671v4.6 M903.86,671v7 M906.14,671v4.6 M908.41,671v4.6 M910.69,671v4.6 M912.96,671v4.6 M915.24,671v9 M917.52,671v4.6 M919.79,671v4.6 M922.07,671v4.6 M924.34,671v4.6 M926.62,671v7 M928.9,671v4.6 M931.17,671v4.6 M933.45,671v4.6 M935.72,671v4.6 M938,671v9" fill="none" stroke="#555" stroke-width="0.7" opacity="0.8"/>
<text x="710.4" y="695.6" font-size="8" fill="#4a4a4a" text-anchor="middle" font-weight="bold">7</text>
<text x="733.16" y="695.6" font-size="8" fill="#4a4a4a" text-anchor="middle" font-weight="bold">8</text>
<text x="755.92" y="695.6" font-size="8" fill="#4a4a4a" text-anchor="middle" font-weight="bold">9</text>
<text x="778.68" y="695.6" font-size="8" fill="#4a4a4a" text-anchor="middle" font-weight="bold">10</text>
<text x="801.44" y="695.6" font-size="8" fill="#4a4a4a" text-anchor="middle" font-weight="bold">11</text>
<text x="824.2" y="695.6" font-size="8" fill="#4a4a4a" text-anchor="middle" font-weight="bold">12</text>
<text x="846.96" y="695.6" font-size="8" fill="#4a4a4a" text-anchor="middle" font-weight="bold">13</text>
<text x="869.72" y="695.6" font-size="8" fill="#4a4a4a" text-anchor="middle" font-weight="bold">14</text>
<text x="892.48" y="695.6" font-size="8" fill="#4a4a4a" text-anchor="middle" font-weight="bold">15</text>
<text x="915.24" y="695.6" font-size="8" fill="#4a4a4a" text-anchor="middle" font-weight="bold">16</text>
<text x="938" y="695.6" font-size="8" fill="#4a4a4a" text-anchor="middle" font-weight="bold">17</text>
<rect x="26.9" y="716" width="179.7" height="22" fill="#7f7f7f"/>
<text x="116.75" y="732.2" font-size="17" fill="#2b2b2b" text-anchor="middle" letter-spacing="0.5">(i)</text>
<rect x="211.9" y="716" width="180.1" height="22" fill="#0db3ec"/>
<text x="301.95" y="732.2" font-size="17" fill="#123a66" text-anchor="middle" letter-spacing="0.5">(ii)</text>
<rect x="397.6" y="716" width="178" height="22" fill="#8bc897"/>
<text x="486.6" y="732.2" font-size="17" fill="#3a5a40" text-anchor="middle" letter-spacing="0.5">(iii)</text>
<rect x="581.8" y="716" width="178" height="22" fill="#ee70a7"/>
<text x="670.8" y="732.2" font-size="17" fill="#7a2c50" text-anchor="middle" letter-spacing="0.5">(iv)</text>
<rect x="766.7" y="716" width="179.6" height="22" fill="#e6007e"/>
<text x="856.5" y="732.2" font-size="17" fill="#8a1050" text-anchor="middle" letter-spacing="0.5">(v)</text>
<text x="23.7" y="821" font-size="17.4" fill="#111" text-anchor="middle" transform="rotate(-90 23.7 821)">HE</text>
<text x="23.7" y="956.8" font-size="17.4" fill="#111" text-anchor="middle" transform="rotate(-90 23.7 956.8)">TUNEL</text>
<text x="23.7" y="1099.3" font-size="17.4" fill="#111" text-anchor="middle" transform="rotate(-90 23.7 1099.3)">Ki 67</text>
<rect x="26.9" y="744.4" width="179.7" height="136.2" fill="#888" filter="url(#he0)"/>
<rect x="211.9" y="744.4" width="180.1" height="136.2" fill="#888" filter="url(#he1)"/>
<rect x="397.6" y="744.4" width="178" height="136.2" fill="#888" filter="url(#he2)"/>
<rect x="581.8" y="744.4" width="178" height="136.2" fill="#888" filter="url(#he3)"/>
<rect x="766.7" y="744.4" width="179.6" height="136.2" fill="#888" filter="url(#he4)"/>
<rect x="26.9" y="886" width="179.7" height="134.5" fill="#888" filter="url(#tu0)"/>
<rect x="211.9" y="886" width="180.1" height="134.5" fill="#888" filter="url(#tu1)"/>
<rect x="397.6" y="886" width="178" height="134.5" fill="#888" filter="url(#tu2)"/>
<rect x="581.8" y="886" width="178" height="134.5" fill="#888" filter="url(#tu3)"/>
<rect x="397.6" y="886" width="178" height="134.5" fill="#888" filter="url(#br2)" mask="url(#mk2)"/>
<rect x="581.8" y="886" width="178" height="134.5" fill="#888" filter="url(#br3)" mask="url(#mk3)"/>
<rect x="766.7" y="886" width="179.6" height="134.5" fill="#888" filter="url(#tu4)"/>
<g filter="url(#bl2)" opacity="0.8" fill="#deb8a4"><ellipse cx="875" cy="911" rx="12" ry="9"/><ellipse cx="868" cy="926" rx="7" ry="7"/><ellipse cx="846.5" cy="938.5" rx="9" ry="6.5"/><ellipse cx="806" cy="937" rx="7" ry="5"/><ellipse cx="898" cy="956" rx="6.5" ry="6"/><ellipse cx="864" cy="956" rx="4" ry="4"/></g>
<rect x="26.9" y="1026.4" width="179.7" height="135.6" fill="#888" filter="url(#ki0)"/>
<rect x="211.9" y="1026.4" width="180.1" height="135.6" fill="#888" filter="url(#ki1)"/>
<rect x="397.6" y="1026.4" width="178" height="135.6" fill="#888" filter="url(#ki2)"/>
<rect x="581.8" y="1026.4" width="178" height="135.6" fill="#888" filter="url(#ki3)"/>
<rect x="766.7" y="1026.4" width="179.6" height="135.6" fill="#888" filter="url(#ki4)"/>
<g filter="url(#bl2)" opacity="0.85" fill="#dcb8ae"><ellipse cx="803" cy="1039" rx="5" ry="4"/><ellipse cx="795" cy="1075" rx="9" ry="4.5" transform="rotate(-35 795 1075)"/><ellipse cx="788.5" cy="1091" rx="5.5" ry="4.5"/><ellipse cx="841" cy="1081" rx="4.5" ry="4"/><ellipse cx="860" cy="1085" rx="5" ry="4.5"/><ellipse cx="906" cy="1100" rx="12" ry="5" transform="rotate(-28 906 1100)"/><ellipse cx="889" cy="1115" rx="4.5" ry="10" transform="rotate(15 889 1115)"/><ellipse cx="881" cy="1144" rx="9" ry="4" transform="rotate(-20 881 1144)"/><ellipse cx="853" cy="1146" rx="5" ry="5"/></g>
<text x="886" y="1143.6" font-size="15" fill="#111" font-weight="bold" textLength="57.5" lengthAdjust="spacingAndGlyphs">200 µm</text>
<rect x="903.3" y="1151.5" width="26" height="5" fill="#0a0a0a"/>
<rect x="73.5" y="1382.12" width="31" height="6.88" fill="#808080" stroke="#4f4f4f" stroke-width="1"/>
<line x1="89" y1="1380.63" x2="89" y2="1383.62" stroke="#222" stroke-width="1.1"/>
<line x1="86.8" y1="1380.63" x2="91.2" y2="1380.63" stroke="#222" stroke-width="1.1"/>
<line x1="86.8" y1="1383.62" x2="91.2" y2="1383.62" stroke="#222" stroke-width="1.1"/>
<rect x="124.3" y="1376.44" width="31" height="12.56" fill="#80fcfc" stroke="#4f9c9c" stroke-width="1"/>
<line x1="139.8" y1="1373.45" x2="139.8" y2="1379.43" stroke="#222" stroke-width="1.1"/>
<line x1="137.6" y1="1373.45" x2="142" y2="1373.45" stroke="#222" stroke-width="1.1"/>
<line x1="137.6" y1="1379.43" x2="142" y2="1379.43" stroke="#222" stroke-width="1.1"/>
<rect x="175.1" y="1287.79" width="31" height="101.21" fill="#00ee00" stroke="#1c8c1c" stroke-width="1"/>
<line x1="190.6" y1="1275.83" x2="190.6" y2="1299.75" stroke="#222" stroke-width="1.1"/>
<line x1="188.4" y1="1275.83" x2="192.8" y2="1275.83" stroke="#222" stroke-width="1.1"/>
<line x1="188.4" y1="1299.75" x2="192.8" y2="1299.75" stroke="#222" stroke-width="1.1"/>
<rect x="225.7" y="1281.81" width="31" height="107.19" fill="#ff82ff" stroke="#a24ca2" stroke-width="1"/>
<line x1="241.2" y1="1273.14" x2="241.2" y2="1290.48" stroke="#222" stroke-width="1.1"/>
<line x1="239" y1="1273.14" x2="243.4" y2="1273.14" stroke="#222" stroke-width="1.1"/>
<line x1="239" y1="1290.48" x2="243.4" y2="1290.48" stroke="#222" stroke-width="1.1"/>
<rect x="276.3" y="1245.63" width="31" height="143.37" fill="#ff007f" stroke="#a8154f" stroke-width="1"/>
<line x1="291.8" y1="1242.34" x2="291.8" y2="1248.92" stroke="#222" stroke-width="1.1"/>
<line x1="289.6" y1="1242.34" x2="294" y2="1242.34" stroke="#222" stroke-width="1.1"/>
<line x1="289.6" y1="1248.92" x2="294" y2="1248.92" stroke="#222" stroke-width="1.1"/>
<rect x="63.9" y="1202.5" width="252.8" height="186.5" fill="none" stroke="#2a2a2a" stroke-width="1.4"/>
<line x1="59.7" y1="1389" x2="63.9" y2="1389" stroke="#2a2a2a" stroke-width="1.3"/>
<text x="56.4" y="1392.25" font-size="16.9" fill="#111" text-anchor="end">0</text>
<line x1="59.7" y1="1344.15" x2="63.9" y2="1344.15" stroke="#2a2a2a" stroke-width="1.3"/>
<text x="56.4" y="1347.4" font-size="16.9" fill="#111" text-anchor="end">30</text>
<line x1="59.7" y1="1299.3" x2="63.9" y2="1299.3" stroke="#2a2a2a" stroke-width="1.3"/>
<text x="56.4" y="1302.55" font-size="16.9" fill="#111" text-anchor="end">60</text>
<line x1="59.7" y1="1254.45" x2="63.9" y2="1254.45" stroke="#2a2a2a" stroke-width="1.3"/>
<text x="56.4" y="1257.7" font-size="16.9" fill="#111" text-anchor="end">90</text>
<line x1="59.7" y1="1209.6" x2="63.9" y2="1209.6" stroke="#2a2a2a" stroke-width="1.3"/>
<text x="56.4" y="1212.85" font-size="16.9" fill="#111" text-anchor="end">120</text>
<line x1="61.7" y1="1366.58" x2="63.9" y2="1366.58" stroke="#2a2a2a" stroke-width="1.1"/>
<line x1="61.7" y1="1321.72" x2="63.9" y2="1321.72" stroke="#2a2a2a" stroke-width="1.1"/>
<line x1="61.7" y1="1276.88" x2="63.9" y2="1276.88" stroke="#2a2a2a" stroke-width="1.1"/>
<line x1="61.7" y1="1232.03" x2="63.9" y2="1232.03" stroke="#2a2a2a" stroke-width="1.1"/>
<line x1="89" y1="1389" x2="89" y2="1393.2" stroke="#2a2a2a" stroke-width="1.3"/>
<text x="89" y="1408.2" font-size="17.4" fill="#111" text-anchor="middle">(i)</text>
<line x1="114.4" y1="1389" x2="114.4" y2="1391.2" stroke="#2a2a2a" stroke-width="1.1"/>
<line x1="139.8" y1="1389" x2="139.8" y2="1393.2" stroke="#2a2a2a" stroke-width="1.3"/>
<text x="139.8" y="1408.2" font-size="17.4" fill="#111" text-anchor="middle">(ii)</text>
<line x1="165.2" y1="1389" x2="165.2" y2="1391.2" stroke="#2a2a2a" stroke-width="1.1"/>
<line x1="190.6" y1="1389" x2="190.6" y2="1393.2" stroke="#2a2a2a" stroke-width="1.3"/>
<text x="190.6" y="1408.2" font-size="17.4" fill="#111" text-anchor="middle">(iii)</text>
<line x1="215.9" y1="1389" x2="215.9" y2="1391.2" stroke="#2a2a2a" stroke-width="1.1"/>
<line x1="241.2" y1="1389" x2="241.2" y2="1393.2" stroke="#2a2a2a" stroke-width="1.3"/>
<text x="241.2" y="1408.2" font-size="17.4" fill="#111" text-anchor="middle">(iv)</text>
<line x1="266.5" y1="1389" x2="266.5" y2="1391.2" stroke="#2a2a2a" stroke-width="1.1"/>
<line x1="291.8" y1="1389" x2="291.8" y2="1393.2" stroke="#2a2a2a" stroke-width="1.3"/>
<text x="291.8" y="1408.2" font-size="17.4" fill="#111" text-anchor="middle">(v)</text>
<text x="26.3" y="1293.8" font-size="16.6" fill="#111" text-anchor="middle" transform="rotate(-90 26.3 1293.8)">Necrosis ratio (%)</text>
<text x="139.8" y="1369.7" font-size="9.2" fill="#3a3a3a" text-anchor="middle" font-weight="bold">###</text>
<text x="190.5" y="1255.2" font-size="9.2" fill="#3a3a3a" text-anchor="middle" font-weight="bold">&amp;&amp;&amp;</text>
<text x="190.5" y="1265.8" font-size="9.2" fill="#3a3a3a" text-anchor="middle" font-weight="bold">###</text>
<text x="190.5" y="1277.8" font-size="13.5" fill="#3a3a3a" text-anchor="middle" font-weight="bold">***</text>
<text x="241.2" y="1253.9" font-size="9.2" fill="#3a3a3a" text-anchor="middle" font-weight="bold">&amp;&amp;&amp;</text>
<text x="241.2" y="1263.8" font-size="9.2" fill="#3a3a3a" text-anchor="middle" font-weight="bold">###</text>
<text x="241.2" y="1276.2" font-size="13.5" fill="#3a3a3a" text-anchor="middle" font-weight="bold">***</text>
<text x="291.8" y="1244" font-size="13.5" fill="#3a3a3a" text-anchor="middle" font-weight="bold">***</text>
<circle cx="219.6" cy="1340.6" r="0.8" fill="#777"/>
<rect x="388.9" y="1369.47" width="31" height="19.53" fill="#808080" stroke="#4f4f4f" stroke-width="1"/>
<line x1="404.4" y1="1367.31" x2="404.4" y2="1371.63" stroke="#222" stroke-width="1.1"/>
<line x1="402.2" y1="1367.31" x2="406.6" y2="1367.31" stroke="#222" stroke-width="1.1"/>
<line x1="402.2" y1="1371.63" x2="406.6" y2="1371.63" stroke="#222" stroke-width="1.1"/>
<rect x="439.3" y="1363.28" width="31" height="25.72" fill="#80fcfc" stroke="#4f9c9c" stroke-width="1"/>
<line x1="454.8" y1="1360.11" x2="454.8" y2="1366.45" stroke="#222" stroke-width="1.1"/>
<line x1="452.6" y1="1360.11" x2="457" y2="1360.11" stroke="#222" stroke-width="1.1"/>
<line x1="452.6" y1="1366.45" x2="457" y2="1366.45" stroke="#222" stroke-width="1.1"/>
<rect x="490.4" y="1276.88" width="31" height="112.12" fill="#00ee00" stroke="#1c8c1c" stroke-width="1"/>
<line x1="505.9" y1="1273.42" x2="505.9" y2="1280.34" stroke="#222" stroke-width="1.1"/>
<line x1="503.7" y1="1273.42" x2="508.1" y2="1273.42" stroke="#222" stroke-width="1.1"/>
<line x1="503.7" y1="1280.34" x2="508.1" y2="1280.34" stroke="#222" stroke-width="1.1"/>
<rect x="541.3" y="1306.69" width="31" height="82.31" fill="#ff82ff" stroke="#a24ca2" stroke-width="1"/>
<line x1="556.8" y1="1295.17" x2="556.8" y2="1318.21" stroke="#222" stroke-width="1.1"/>
<line x1="554.6" y1="1295.17" x2="559" y2="1295.17" stroke="#222" stroke-width="1.1"/>
<line x1="554.6" y1="1318.21" x2="559" y2="1318.21" stroke="#222" stroke-width="1.1"/>
<rect x="592" y="1237.57" width="31" height="151.43" fill="#ff007f" stroke="#a8154f" stroke-width="1"/>
<line x1="607.5" y1="1233.54" x2="607.5" y2="1241.6" stroke="#222" stroke-width="1.1"/>
<line x1="605.3" y1="1233.54" x2="609.7" y2="1233.54" stroke="#222" stroke-width="1.1"/>
<line x1="605.3" y1="1241.6" x2="609.7" y2="1241.6" stroke="#222" stroke-width="1.1"/>
<rect x="379" y="1202" width="253.9" height="187" fill="none" stroke="#2a2a2a" stroke-width="1.4"/>
<line x1="374.8" y1="1374.8" x2="379" y2="1374.8" stroke="#2a2a2a" stroke-width="1.3"/>
<text x="372.2" y="1377.51" font-size="15.4" fill="#111" text-anchor="end">0</text>
<line x1="374.8" y1="1331.6" x2="379" y2="1331.6" stroke="#2a2a2a" stroke-width="1.3"/>
<text x="372.2" y="1334.31" font-size="15.4" fill="#111" text-anchor="end">30</text>
<line x1="374.8" y1="1288.4" x2="379" y2="1288.4" stroke="#2a2a2a" stroke-width="1.3"/>
<text x="372.2" y="1291.11" font-size="15.4" fill="#111" text-anchor="end">60</text>
<line x1="374.8" y1="1245.2" x2="379" y2="1245.2" stroke="#2a2a2a" stroke-width="1.3"/>
<text x="372.2" y="1247.91" font-size="15.4" fill="#111" text-anchor="end">90</text>
<line x1="374.8" y1="1202" x2="379" y2="1202" stroke="#2a2a2a" stroke-width="1.3"/>
<text x="372.2" y="1204.71" font-size="15.4" fill="#111" text-anchor="end">120</text>
<line x1="376.8" y1="1353.2" x2="379" y2="1353.2" stroke="#2a2a2a" stroke-width="1.1"/>
<line x1="376.8" y1="1310" x2="379" y2="1310" stroke="#2a2a2a" stroke-width="1.1"/>
<line x1="376.8" y1="1266.8" x2="379" y2="1266.8" stroke="#2a2a2a" stroke-width="1.1"/>
<line x1="376.8" y1="1223.6" x2="379" y2="1223.6" stroke="#2a2a2a" stroke-width="1.1"/>
<line x1="404.4" y1="1389" x2="404.4" y2="1393.2" stroke="#2a2a2a" stroke-width="1.3"/>
<text x="404.4" y="1404.3" font-size="16" fill="#111" text-anchor="middle">(i)</text>
<line x1="429.6" y1="1389" x2="429.6" y2="1391.2" stroke="#2a2a2a" stroke-width="1.1"/>
<line x1="454.8" y1="1389" x2="454.8" y2="1393.2" stroke="#2a2a2a" stroke-width="1.3"/>
<text x="454.8" y="1404.3" font-size="16" fill="#111" text-anchor="middle">(ii)</text>
<line x1="480.35" y1="1389" x2="480.35" y2="1391.2" stroke="#2a2a2a" stroke-width="1.1"/>
<line x1="505.9" y1="1389" x2="505.9" y2="1393.2" stroke="#2a2a2a" stroke-width="1.3"/>
<text x="505.9" y="1404.3" font-size="16" fill="#111" text-anchor="middle">(iii)</text>
<line x1="531.35" y1="1389" x2="531.35" y2="1391.2" stroke="#2a2a2a" stroke-width="1.1"/>
<line x1="556.8" y1="1389" x2="556.8" y2="1393.2" stroke="#2a2a2a" stroke-width="1.3"/>
<text x="556.8" y="1404.3" font-size="16" fill="#111" text-anchor="middle">(iv)</text>
<line x1="582.15" y1="1389" x2="582.15" y2="1391.2" stroke="#2a2a2a" stroke-width="1.1"/>
<line x1="607.5" y1="1389" x2="607.5" y2="1393.2" stroke="#2a2a2a" stroke-width="1.3"/>
<text x="607.5" y="1404.3" font-size="16" fill="#111" text-anchor="middle">(v)</text>
<text x="343.3" y="1293" font-size="14.85" fill="#111" text-anchor="middle" transform="rotate(-90 343.3 1293)">TUNEL<tspan font-size="10" dy="-5.5" dx="2.5">+</tspan><tspan dy="5.5" dx="1"> area (%)</tspan></text>
<text x="454.8" y="1357.4" font-size="9.2" fill="#3a3a3a" text-anchor="middle" font-weight="bold">###</text>
<text x="505.9" y="1254.4" font-size="9.2" fill="#3a3a3a" text-anchor="middle" font-weight="bold">&amp;&amp;&amp;</text>
<text x="505.9" y="1263.8" font-size="9.2" fill="#3a3a3a" text-anchor="middle" font-weight="bold">###</text>
<text x="505.9" y="1276.7" font-size="13.5" fill="#3a3a3a" text-anchor="middle" font-weight="bold">***</text>
<text x="556.8" y="1268" font-size="9.2" fill="#8a8a8a" text-anchor="middle" font-weight="bold">@@@</text>
<text x="556.8" y="1277.9" font-size="9.2" fill="#3a3a3a" text-anchor="middle" font-weight="bold">&amp;&amp;&amp;</text>
<text x="556.8" y="1286.9" font-size="9.2" fill="#3a3a3a" text-anchor="middle" font-weight="bold">###</text>
<text x="556.8" y="1298.9" font-size="13.5" fill="#3a3a3a" text-anchor="middle" font-weight="bold">***</text>
<text x="607.5" y="1235.8" font-size="13.5" fill="#3a3a3a" text-anchor="middle" font-weight="bold">***</text>
<rect x="702.6" y="1237.23" width="31.4" height="151.57" fill="#808080" stroke="#4f4f4f" stroke-width="1"/>
<line x1="718.3" y1="1230.06" x2="718.3" y2="1244.39" stroke="#222" stroke-width="1.1"/>
<line x1="716.1" y1="1230.06" x2="720.5" y2="1230.06" stroke="#222" stroke-width="1.1"/>
<line x1="716.1" y1="1244.39" x2="720.5" y2="1244.39" stroke="#222" stroke-width="1.1"/>
<rect x="753.1" y="1260.26" width="31.4" height="128.54" fill="#80fcfc" stroke="#4f9c9c" stroke-width="1"/>
<line x1="768.8" y1="1254.97" x2="768.8" y2="1265.55" stroke="#222" stroke-width="1.1"/>
<line x1="766.6" y1="1254.97" x2="771" y2="1254.97" stroke="#222" stroke-width="1.1"/>
<line x1="766.6" y1="1265.55" x2="771" y2="1265.55" stroke="#222" stroke-width="1.1"/>
<rect x="803.9" y="1311.95" width="31.4" height="76.85" fill="#00ee00" stroke="#1c8c1c" stroke-width="1"/>
<line x1="819.6" y1="1307" x2="819.6" y2="1316.9" stroke="#222" stroke-width="1.1"/>
<line x1="817.4" y1="1307" x2="821.8" y2="1307" stroke="#222" stroke-width="1.1"/>
<line x1="817.4" y1="1316.9" x2="821.8" y2="1316.9" stroke="#222" stroke-width="1.1"/>
<rect x="855" y="1290.11" width="31.4" height="98.69" fill="#ff82ff" stroke="#a24ca2" stroke-width="1"/>
<line x1="870.7" y1="1277.83" x2="870.7" y2="1302.4" stroke="#222" stroke-width="1.1"/>
<line x1="868.5" y1="1277.83" x2="872.9" y2="1277.83" stroke="#222" stroke-width="1.1"/>
<line x1="868.5" y1="1302.4" x2="872.9" y2="1302.4" stroke="#222" stroke-width="1.1"/>
<rect x="906.1" y="1358.69" width="31.4" height="30.11" fill="#ff007f" stroke="#a8154f" stroke-width="1"/>
<line x1="921.8" y1="1353.92" x2="921.8" y2="1363.47" stroke="#222" stroke-width="1.1"/>
<line x1="919.6" y1="1353.92" x2="924" y2="1353.92" stroke="#222" stroke-width="1.1"/>
<line x1="919.6" y1="1363.47" x2="924" y2="1363.47" stroke="#222" stroke-width="1.1"/>
<rect x="692.1" y="1201.4" width="255.3" height="187.4" fill="none" stroke="#2a2a2a" stroke-width="1.4"/>
<line x1="687.9" y1="1372" x2="692.1" y2="1372" stroke="#2a2a2a" stroke-width="1.3"/>
<text x="685.7" y="1375.47" font-size="17.5" fill="#111" text-anchor="end">0</text>
<line x1="687.9" y1="1337.88" x2="692.1" y2="1337.88" stroke="#2a2a2a" stroke-width="1.3"/>
<text x="685.7" y="1341.35" font-size="17.5" fill="#111" text-anchor="end">20</text>
<line x1="687.9" y1="1303.76" x2="692.1" y2="1303.76" stroke="#2a2a2a" stroke-width="1.3"/>
<text x="685.7" y="1307.23" font-size="17.5" fill="#111" text-anchor="end">40</text>
<line x1="687.9" y1="1269.64" x2="692.1" y2="1269.64" stroke="#2a2a2a" stroke-width="1.3"/>
<text x="685.7" y="1273.11" font-size="17.5" fill="#111" text-anchor="end">60</text>
<line x1="687.9" y1="1235.52" x2="692.1" y2="1235.52" stroke="#2a2a2a" stroke-width="1.3"/>
<text x="685.7" y="1238.99" font-size="17.5" fill="#111" text-anchor="end">80</text>
<line x1="687.9" y1="1201.4" x2="692.1" y2="1201.4" stroke="#2a2a2a" stroke-width="1.3"/>
<text x="685.7" y="1204.87" font-size="17.5" fill="#111" text-anchor="end">100</text>
<line x1="689.9" y1="1354.94" x2="692.1" y2="1354.94" stroke="#2a2a2a" stroke-width="1.1"/>
<line x1="689.9" y1="1320.82" x2="692.1" y2="1320.82" stroke="#2a2a2a" stroke-width="1.1"/>
<line x1="689.9" y1="1286.7" x2="692.1" y2="1286.7" stroke="#2a2a2a" stroke-width="1.1"/>
<line x1="689.9" y1="1252.58" x2="692.1" y2="1252.58" stroke="#2a2a2a" stroke-width="1.1"/>
<line x1="689.9" y1="1218.46" x2="692.1" y2="1218.46" stroke="#2a2a2a" stroke-width="1.1"/>
<line x1="718.3" y1="1388.8" x2="718.3" y2="1393" stroke="#2a2a2a" stroke-width="1.3"/>
<text x="718.3" y="1405.7" font-size="17.2" fill="#111" text-anchor="middle">(i)</text>
<line x1="743.55" y1="1388.8" x2="743.55" y2="1391" stroke="#2a2a2a" stroke-width="1.1"/>
<line x1="768.8" y1="1388.8" x2="768.8" y2="1393" stroke="#2a2a2a" stroke-width="1.3"/>
<text x="768.8" y="1405.7" font-size="17.2" fill="#111" text-anchor="middle">(ii)</text>
<line x1="794.2" y1="1388.8" x2="794.2" y2="1391" stroke="#2a2a2a" stroke-width="1.1"/>
<line x1="819.6" y1="1388.8" x2="819.6" y2="1393" stroke="#2a2a2a" stroke-width="1.3"/>
<text x="819.6" y="1405.7" font-size="17.2" fill="#111" text-anchor="middle">(iii)</text>
<line x1="845.15" y1="1388.8" x2="845.15" y2="1391" stroke="#2a2a2a" stroke-width="1.1"/>
<line x1="870.7" y1="1388.8" x2="870.7" y2="1393" stroke="#2a2a2a" stroke-width="1.3"/>
<text x="870.7" y="1405.7" font-size="17.2" fill="#111" text-anchor="middle">(iv)</text>
<line x1="896.25" y1="1388.8" x2="896.25" y2="1391" stroke="#2a2a2a" stroke-width="1.1"/>
<line x1="921.8" y1="1388.8" x2="921.8" y2="1393" stroke="#2a2a2a" stroke-width="1.3"/>
<text x="921.8" y="1405.7" font-size="17.2" fill="#111" text-anchor="middle">(v)</text>
<text x="660" y="1291" font-size="17" fill="#111" text-anchor="middle" transform="rotate(-90 660 1291)">Ki 67<tspan font-size="12" dy="-6.5">+</tspan><tspan dy="6.5"> area (%)</tspan></text>
<text x="768.8" y="1245.9" font-size="9.2" fill="#3a3a3a" text-anchor="middle" font-weight="bold">###</text>
<text x="768.8" y="1257.1" font-size="13.5" fill="#3a3a3a" text-anchor="middle" font-weight="bold">*</text>
<text x="819.6" y="1290.4" font-size="9.2" fill="#3a3a3a" text-anchor="middle" font-weight="bold">&amp;&amp;&amp;</text>
<text x="819.6" y="1299.3" font-size="9.2" fill="#3a3a3a" text-anchor="middle" font-weight="bold">###</text>
<text x="819.6" y="1309.9" font-size="13.5" fill="#3a3a3a" text-anchor="middle" font-weight="bold">***</text>
<text x="870.7" y="1250.8" font-size="9.2" fill="#6a6a6a" text-anchor="middle" font-weight="bold">@</text>
<text x="870.7" y="1261.4" font-size="9.2" fill="#3a3a3a" text-anchor="middle" font-weight="bold">&amp;&amp;&amp;</text>
<text x="870.7" y="1269.9" font-size="9.2" fill="#3a3a3a" text-anchor="middle" font-weight="bold">###</text>
<text x="870.7" y="1281.2" font-size="13.5" fill="#3a3a3a" text-anchor="middle" font-weight="bold">***</text>
<text x="921.8" y="1356.1" font-size="13.5" fill="#3a3a3a" text-anchor="middle" font-weight="bold">***</text>
<text x="0" y="34" font-size="38" fill="#000" stroke="#000" stroke-width="0.5">a</text>
<text x="0" y="166.8" font-size="38" fill="#000" stroke="#000" stroke-width="0.5">b</text>
<text x="312.5" y="165.5" font-size="38" fill="#000" stroke="#000" stroke-width="0.5">c</text>
<text x="610" y="173.2" font-size="38" fill="#000" stroke="#000" stroke-width="0.5">d</text>
<text x="1.5" y="450" font-size="38" fill="#000" stroke="#000" stroke-width="0.5">e</text>
<text x="324" y="456" font-size="38" fill="#000" stroke="#000" stroke-width="0.5">f</text>
<text x="616.3" y="446.2" font-size="38" fill="#000" stroke="#000" stroke-width="0.5">g</text>
<text x="1.5" y="726.5" font-size="38" fill="#000" stroke="#000" stroke-width="0.5">h</text>
<text x="4.5" y="1198" font-size="38" fill="#000" stroke="#000" stroke-width="0.5">i</text>
</svg></body></html>
